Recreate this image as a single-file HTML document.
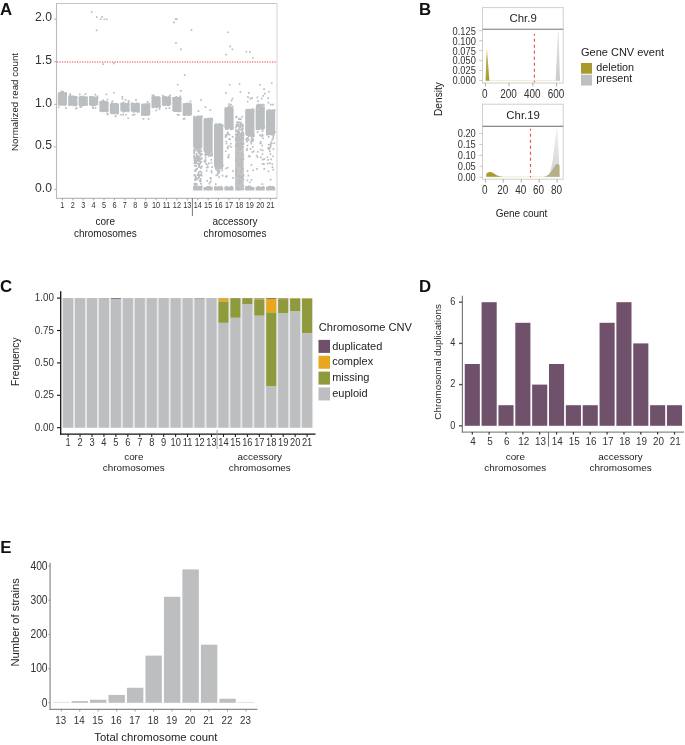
<!DOCTYPE html><html><head><meta charset="utf-8"><title>Figure</title><style>html,body{margin:0;padding:0;background:#fff;width:685px;height:745px;overflow:hidden}svg{display:block;font-family:"Liberation Sans",sans-serif;will-change:transform}</style></head><body><svg width="685" height="745" viewBox="0 0 685 745" font-family="Liberation Sans, sans-serif"><text x="0" y="14.7" font-size="16.8" fill="#111" font-weight="bold">A</text>
<text x="419" y="14.8" font-size="16.8" fill="#111" font-weight="bold">B</text>
<text x="0" y="291.6" font-size="16.8" fill="#111" font-weight="bold">C</text>
<text x="418.9" y="291.8" font-size="16.8" fill="#111" font-weight="bold">D</text>
<text x="0.3" y="553" font-size="16.8" fill="#111" font-weight="bold">E</text>
<line x1="56.5" y1="3.5" x2="277.2" y2="3.5" stroke="#C6C6C6" stroke-width="1.1"/>
<line x1="277" y1="3.5" x2="277" y2="198.4" stroke="#E0E0E0" stroke-width="1.4"/>
<line x1="56.5" y1="3" x2="56.5" y2="198.9" stroke="#BBBBBB" stroke-width="1.1"/>
<line x1="56.5" y1="198.4" x2="277.2" y2="198.4" stroke="#BBBBBB" stroke-width="1.1"/>
<path d="M57.8 93.1h9.2v11.6h-9.2zM68.2 96.6h9.2v8.3h-9.2zM78.6 96.8h9.2v7.9h-9.2zM89.0 97.2h9.2v7.5h-9.2zM99.4 101.8h9.2v9.4h-9.2zM109.8 104.2h9.2v8.9h-9.2zM120.3 103.6h9.2v7.6h-9.2zM130.7 103.8h9.2v7.7h-9.2zM141.1 104.3h9.2v10.5h-9.2zM151.5 97.2h9.2v9.9h-9.2zM161.9 97.0h9.2v7.9h-9.2zM172.3 97.8h9.2v13.2h-9.2zM182.7 103.8h9.2v11.0h-9.2zM193.1 117.2h9.2v29.5h-9.2zM193.1 187.0h9.2v3.4h-9.2zM203.5 119.6h9.2v30.6h-9.2zM203.5 187.0h9.2v3.4h-9.2zM214.0 124.8h9.2v41.0h-9.2zM214.0 187.0h9.2v3.4h-9.2zM224.4 108.8h9.2v19.0h-9.2zM224.4 187.0h9.2v3.4h-9.2zM245.2 110.4h9.2v24.3h-9.2zM245.2 187.0h9.2v3.4h-9.2zM255.6 107.6h9.2v19.8h-9.2zM255.6 187.0h9.2v3.4h-9.2zM266.0 111.0h9.2v21.9h-9.2zM266.0 187.0h9.2v3.4h-9.2zM193.1 186.0h9.2v2.0h-9.2z" fill="#BBBEC0"/>
<rect x="235.1" y="146.0" width="8.6" height="44.4" fill="#C2C4C6"/>
<path d="M60.3 92.1h1.7v1.7h-1.7zM62.8 102.9h1.7v1.7h-1.7zM61.9 92.4h1.7v1.7h-1.7zM58.2 103.6h1.7v1.7h-1.7zM58.1 92.5h1.7v1.7h-1.7zM58.3 102.9h1.7v1.7h-1.7zM61.1 93.1h1.7v1.7h-1.7zM58.8 103.1h1.7v1.7h-1.7zM62.6 93.2h1.7v1.7h-1.7zM62.2 103.4h1.7v1.7h-1.7zM65.3 92.0h1.7v1.7h-1.7zM64.4 103.2h1.7v1.7h-1.7zM58.9 92.1h1.7v1.7h-1.7zM60.2 104.0h1.7v1.7h-1.7zM59.2 92.7h1.7v1.7h-1.7zM62.7 103.4h1.7v1.7h-1.7zM62.0 92.0h1.7v1.7h-1.7zM58.3 103.1h1.7v1.7h-1.7zM63.0 92.5h1.7v1.7h-1.7zM60.2 103.7h1.7v1.7h-1.7zM61.3 92.3h1.7v1.7h-1.7zM63.9 103.8h1.7v1.7h-1.7zM59.7 92.7h1.7v1.7h-1.7zM61.8 104.1h1.7v1.7h-1.7zM63.4 92.3h1.7v1.7h-1.7zM65.3 103.0h1.7v1.7h-1.7zM61.0 93.0h1.7v1.7h-1.7zM59.0 103.5h1.7v1.7h-1.7zM58.1 92.8h1.7v1.7h-1.7zM63.7 103.7h1.7v1.7h-1.7zM64.5 92.3h1.7v1.7h-1.7zM63.2 103.7h1.7v1.7h-1.7zM62.3 92.5h1.7v1.7h-1.7zM64.3 104.2h1.7v1.7h-1.7zM61.5 92.8h1.7v1.7h-1.7zM58.3 103.9h1.7v1.7h-1.7zM62.8 93.3h1.7v1.7h-1.7zM64.1 103.2h1.7v1.7h-1.7zM60.8 92.8h1.7v1.7h-1.7zM58.0 103.5h1.7v1.7h-1.7zM59.1 92.1h1.7v1.7h-1.7zM58.3 104.0h1.7v1.7h-1.7zM58.8 92.2h1.7v1.7h-1.7zM60.8 104.1h1.7v1.7h-1.7zM58.4 92.5h1.7v1.7h-1.7zM62.0 104.1h1.7v1.7h-1.7zM64.1 93.1h1.7v1.7h-1.7zM59.9 103.4h1.7v1.7h-1.7zM60.6 93.1h1.7v1.7h-1.7zM65.2 103.0h1.7v1.7h-1.7zM59.2 92.2h1.7v1.7h-1.7zM59.6 103.5h1.7v1.7h-1.7zM62.3 91.1h1.7v1.7h-1.7zM57.8 106.5h1.7v1.7h-1.7zM60.6 90.4h1.7v1.7h-1.7zM65.1 107.2h1.7v1.7h-1.7zM72.2 96.3h1.7v1.7h-1.7zM73.4 103.1h1.7v1.7h-1.7zM75.1 96.5h1.7v1.7h-1.7zM74.9 104.2h1.7v1.7h-1.7zM71.2 96.0h1.7v1.7h-1.7zM69.0 104.0h1.7v1.7h-1.7zM68.7 95.5h1.7v1.7h-1.7zM69.8 103.2h1.7v1.7h-1.7zM70.8 95.5h1.7v1.7h-1.7zM68.2 103.2h1.7v1.7h-1.7zM69.0 95.9h1.7v1.7h-1.7zM68.4 104.3h1.7v1.7h-1.7zM72.9 95.6h1.7v1.7h-1.7zM70.2 103.5h1.7v1.7h-1.7zM71.0 95.6h1.7v1.7h-1.7zM74.7 104.5h1.7v1.7h-1.7zM71.8 96.1h1.7v1.7h-1.7zM68.9 103.2h1.7v1.7h-1.7zM70.8 95.8h1.7v1.7h-1.7zM74.6 103.2h1.7v1.7h-1.7zM68.4 96.7h1.7v1.7h-1.7zM72.3 103.2h1.7v1.7h-1.7zM72.4 95.4h1.7v1.7h-1.7zM72.3 104.5h1.7v1.7h-1.7zM74.9 96.4h1.7v1.7h-1.7zM70.2 103.6h1.7v1.7h-1.7zM69.5 96.5h1.7v1.7h-1.7zM72.3 104.2h1.7v1.7h-1.7zM70.7 95.7h1.7v1.7h-1.7zM74.5 104.5h1.7v1.7h-1.7zM74.8 96.5h1.7v1.7h-1.7zM74.5 104.1h1.7v1.7h-1.7zM70.0 96.1h1.7v1.7h-1.7zM70.9 103.0h1.7v1.7h-1.7zM68.4 95.8h1.7v1.7h-1.7zM70.2 104.0h1.7v1.7h-1.7zM75.6 96.0h1.7v1.7h-1.7zM75.4 104.5h1.7v1.7h-1.7zM75.6 95.9h1.7v1.7h-1.7zM69.9 103.3h1.7v1.7h-1.7zM69.7 95.7h1.7v1.7h-1.7zM73.0 104.4h1.7v1.7h-1.7zM74.7 96.1h1.7v1.7h-1.7zM73.2 104.2h1.7v1.7h-1.7zM68.9 96.3h1.7v1.7h-1.7zM75.2 104.2h1.7v1.7h-1.7zM74.0 96.1h1.7v1.7h-1.7zM69.6 104.2h1.7v1.7h-1.7zM70.8 96.5h1.7v1.7h-1.7zM75.7 103.6h1.7v1.7h-1.7zM71.3 96.7h1.7v1.7h-1.7zM73.8 103.3h1.7v1.7h-1.7zM69.2 94.9h1.7v1.7h-1.7zM75.2 107.7h1.7v1.7h-1.7zM69.3 93.2h1.7v1.7h-1.7zM75.8 107.3h1.7v1.7h-1.7zM81.3 96.4h1.7v1.7h-1.7zM79.6 102.8h1.7v1.7h-1.7zM86.1 96.5h1.7v1.7h-1.7zM82.7 104.2h1.7v1.7h-1.7zM82.0 96.8h1.7v1.7h-1.7zM85.0 103.1h1.7v1.7h-1.7zM80.6 96.0h1.7v1.7h-1.7zM80.5 103.7h1.7v1.7h-1.7zM80.6 96.2h1.7v1.7h-1.7zM79.6 104.2h1.7v1.7h-1.7zM81.3 96.2h1.7v1.7h-1.7zM83.1 104.2h1.7v1.7h-1.7zM81.9 96.9h1.7v1.7h-1.7zM82.5 103.6h1.7v1.7h-1.7zM82.7 95.6h1.7v1.7h-1.7zM82.0 103.1h1.7v1.7h-1.7zM78.7 96.7h1.7v1.7h-1.7zM79.9 103.5h1.7v1.7h-1.7zM84.2 96.4h1.7v1.7h-1.7zM81.1 103.6h1.7v1.7h-1.7zM82.9 96.7h1.7v1.7h-1.7zM79.4 103.6h1.7v1.7h-1.7zM80.5 96.0h1.7v1.7h-1.7zM84.6 103.6h1.7v1.7h-1.7zM82.9 96.7h1.7v1.7h-1.7zM85.6 103.5h1.7v1.7h-1.7zM83.3 96.3h1.7v1.7h-1.7zM82.6 103.8h1.7v1.7h-1.7zM82.1 96.3h1.7v1.7h-1.7zM82.3 104.2h1.7v1.7h-1.7zM84.0 96.8h1.7v1.7h-1.7zM85.9 103.2h1.7v1.7h-1.7zM82.9 96.9h1.7v1.7h-1.7zM85.1 103.0h1.7v1.7h-1.7zM79.6 96.2h1.7v1.7h-1.7zM79.2 103.2h1.7v1.7h-1.7zM79.2 96.5h1.7v1.7h-1.7zM84.7 104.1h1.7v1.7h-1.7zM79.8 96.6h1.7v1.7h-1.7zM83.7 103.0h1.7v1.7h-1.7zM85.4 97.0h1.7v1.7h-1.7zM80.3 104.2h1.7v1.7h-1.7zM81.7 96.3h1.7v1.7h-1.7zM86.2 104.0h1.7v1.7h-1.7zM79.9 96.2h1.7v1.7h-1.7zM82.6 103.3h1.7v1.7h-1.7zM80.1 96.0h1.7v1.7h-1.7zM84.2 102.8h1.7v1.7h-1.7zM82.9 96.2h1.7v1.7h-1.7zM78.8 103.3h1.7v1.7h-1.7zM83.4 96.3h1.7v1.7h-1.7zM79.1 104.3h1.7v1.7h-1.7zM84.7 93.1h1.7v1.7h-1.7zM79.4 106.2h1.7v1.7h-1.7zM78.9 93.6h1.7v1.7h-1.7zM80.7 105.8h1.7v1.7h-1.7zM92.3 97.3h1.7v1.7h-1.7zM95.3 103.2h1.7v1.7h-1.7zM90.2 97.3h1.7v1.7h-1.7zM93.4 103.9h1.7v1.7h-1.7zM89.7 96.1h1.7v1.7h-1.7zM94.3 103.4h1.7v1.7h-1.7zM89.6 97.3h1.7v1.7h-1.7zM93.9 104.0h1.7v1.7h-1.7zM89.7 97.2h1.7v1.7h-1.7zM89.5 104.1h1.7v1.7h-1.7zM92.5 96.5h1.7v1.7h-1.7zM93.3 104.2h1.7v1.7h-1.7zM91.1 96.2h1.7v1.7h-1.7zM93.1 103.2h1.7v1.7h-1.7zM89.9 96.2h1.7v1.7h-1.7zM89.4 103.1h1.7v1.7h-1.7zM91.4 96.4h1.7v1.7h-1.7zM94.9 103.2h1.7v1.7h-1.7zM92.9 96.2h1.7v1.7h-1.7zM91.7 102.8h1.7v1.7h-1.7zM91.0 96.0h1.7v1.7h-1.7zM94.7 103.6h1.7v1.7h-1.7zM90.5 96.7h1.7v1.7h-1.7zM96.2 103.0h1.7v1.7h-1.7zM95.3 96.6h1.7v1.7h-1.7zM92.8 104.1h1.7v1.7h-1.7zM92.1 96.7h1.7v1.7h-1.7zM94.3 104.3h1.7v1.7h-1.7zM91.7 97.2h1.7v1.7h-1.7zM94.5 103.8h1.7v1.7h-1.7zM92.1 96.5h1.7v1.7h-1.7zM89.4 103.0h1.7v1.7h-1.7zM89.6 97.0h1.7v1.7h-1.7zM91.0 103.0h1.7v1.7h-1.7zM89.7 97.2h1.7v1.7h-1.7zM95.7 103.8h1.7v1.7h-1.7zM91.2 96.3h1.7v1.7h-1.7zM91.3 103.5h1.7v1.7h-1.7zM90.2 96.6h1.7v1.7h-1.7zM91.1 104.2h1.7v1.7h-1.7zM96.5 96.8h1.7v1.7h-1.7zM90.9 104.2h1.7v1.7h-1.7zM91.4 96.5h1.7v1.7h-1.7zM89.0 103.4h1.7v1.7h-1.7zM92.7 96.7h1.7v1.7h-1.7zM90.6 103.6h1.7v1.7h-1.7zM89.1 96.4h1.7v1.7h-1.7zM89.7 103.4h1.7v1.7h-1.7zM89.4 96.0h1.7v1.7h-1.7zM91.4 103.1h1.7v1.7h-1.7zM93.5 96.7h1.7v1.7h-1.7zM94.8 103.8h1.7v1.7h-1.7zM94.5 93.7h1.7v1.7h-1.7zM92.0 106.3h1.7v1.7h-1.7zM96.6 95.5h1.7v1.7h-1.7zM94.6 107.1h1.7v1.7h-1.7zM99.8 101.8h1.7v1.7h-1.7zM106.3 110.2h1.7v1.7h-1.7zM105.1 101.7h1.7v1.7h-1.7zM100.5 110.1h1.7v1.7h-1.7zM103.3 101.8h1.7v1.7h-1.7zM105.6 110.5h1.7v1.7h-1.7zM103.9 101.8h1.7v1.7h-1.7zM104.7 110.3h1.7v1.7h-1.7zM101.2 100.6h1.7v1.7h-1.7zM100.5 109.8h1.7v1.7h-1.7zM100.2 101.8h1.7v1.7h-1.7zM103.7 110.2h1.7v1.7h-1.7zM104.3 101.6h1.7v1.7h-1.7zM103.2 109.3h1.7v1.7h-1.7zM105.6 101.6h1.7v1.7h-1.7zM103.3 110.1h1.7v1.7h-1.7zM104.5 100.7h1.7v1.7h-1.7zM105.1 109.7h1.7v1.7h-1.7zM100.0 101.0h1.7v1.7h-1.7zM105.1 109.6h1.7v1.7h-1.7zM105.1 102.0h1.7v1.7h-1.7zM103.2 109.9h1.7v1.7h-1.7zM103.1 101.6h1.7v1.7h-1.7zM105.3 110.2h1.7v1.7h-1.7zM104.4 100.7h1.7v1.7h-1.7zM100.6 109.7h1.7v1.7h-1.7zM105.2 101.0h1.7v1.7h-1.7zM103.8 109.3h1.7v1.7h-1.7zM99.9 101.0h1.7v1.7h-1.7zM104.6 110.3h1.7v1.7h-1.7zM104.6 101.0h1.7v1.7h-1.7zM103.4 110.0h1.7v1.7h-1.7zM103.0 100.8h1.7v1.7h-1.7zM106.3 109.6h1.7v1.7h-1.7zM107.0 101.9h1.7v1.7h-1.7zM99.6 110.0h1.7v1.7h-1.7zM105.8 102.0h1.7v1.7h-1.7zM102.9 109.7h1.7v1.7h-1.7zM101.1 101.9h1.7v1.7h-1.7zM101.1 110.2h1.7v1.7h-1.7zM100.5 101.3h1.7v1.7h-1.7zM106.8 109.5h1.7v1.7h-1.7zM105.8 101.3h1.7v1.7h-1.7zM106.3 110.4h1.7v1.7h-1.7zM101.2 101.9h1.7v1.7h-1.7zM103.2 109.3h1.7v1.7h-1.7zM99.5 101.3h1.7v1.7h-1.7zM102.9 109.8h1.7v1.7h-1.7zM100.5 101.1h1.7v1.7h-1.7zM101.9 110.6h1.7v1.7h-1.7zM99.5 101.7h1.7v1.7h-1.7zM105.9 109.5h1.7v1.7h-1.7zM106.6 98.7h1.7v1.7h-1.7zM106.4 112.7h1.7v1.7h-1.7zM102.3 99.5h1.7v1.7h-1.7zM107.1 113.5h1.7v1.7h-1.7zM112.6 103.6h1.7v1.7h-1.7zM112.0 111.3h1.7v1.7h-1.7zM110.6 104.2h1.7v1.7h-1.7zM112.0 112.6h1.7v1.7h-1.7zM111.8 103.4h1.7v1.7h-1.7zM113.8 111.5h1.7v1.7h-1.7zM112.7 104.3h1.7v1.7h-1.7zM116.7 112.4h1.7v1.7h-1.7zM114.7 104.3h1.7v1.7h-1.7zM117.1 112.0h1.7v1.7h-1.7zM115.4 103.1h1.7v1.7h-1.7zM115.5 111.9h1.7v1.7h-1.7zM115.6 103.9h1.7v1.7h-1.7zM112.1 111.3h1.7v1.7h-1.7zM117.0 103.2h1.7v1.7h-1.7zM113.5 111.7h1.7v1.7h-1.7zM112.1 104.0h1.7v1.7h-1.7zM117.4 111.6h1.7v1.7h-1.7zM114.9 103.4h1.7v1.7h-1.7zM114.1 111.8h1.7v1.7h-1.7zM111.1 103.2h1.7v1.7h-1.7zM111.5 112.6h1.7v1.7h-1.7zM113.7 103.3h1.7v1.7h-1.7zM116.8 112.7h1.7v1.7h-1.7zM113.3 103.2h1.7v1.7h-1.7zM111.3 111.3h1.7v1.7h-1.7zM112.5 103.1h1.7v1.7h-1.7zM111.7 111.6h1.7v1.7h-1.7zM114.2 104.2h1.7v1.7h-1.7zM115.6 111.8h1.7v1.7h-1.7zM113.0 103.7h1.7v1.7h-1.7zM112.8 111.7h1.7v1.7h-1.7zM110.3 103.4h1.7v1.7h-1.7zM117.3 111.4h1.7v1.7h-1.7zM113.7 103.9h1.7v1.7h-1.7zM116.5 111.5h1.7v1.7h-1.7zM111.9 103.3h1.7v1.7h-1.7zM112.9 111.9h1.7v1.7h-1.7zM117.2 104.2h1.7v1.7h-1.7zM116.6 111.2h1.7v1.7h-1.7zM110.1 104.0h1.7v1.7h-1.7zM116.7 111.9h1.7v1.7h-1.7zM114.4 103.0h1.7v1.7h-1.7zM112.9 112.6h1.7v1.7h-1.7zM116.2 104.2h1.7v1.7h-1.7zM117.3 111.6h1.7v1.7h-1.7zM110.7 103.2h1.7v1.7h-1.7zM113.9 112.2h1.7v1.7h-1.7zM117.1 104.0h1.7v1.7h-1.7zM114.8 112.3h1.7v1.7h-1.7zM113.4 103.8h1.7v1.7h-1.7zM110.2 112.4h1.7v1.7h-1.7zM111.6 100.6h1.7v1.7h-1.7zM114.8 114.7h1.7v1.7h-1.7zM110.8 102.3h1.7v1.7h-1.7zM114.7 115.6h1.7v1.7h-1.7zM121.1 102.5h1.7v1.7h-1.7zM124.3 110.2h1.7v1.7h-1.7zM123.2 102.7h1.7v1.7h-1.7zM124.9 109.3h1.7v1.7h-1.7zM122.6 103.0h1.7v1.7h-1.7zM127.6 110.3h1.7v1.7h-1.7zM127.1 103.1h1.7v1.7h-1.7zM122.1 109.7h1.7v1.7h-1.7zM127.7 103.4h1.7v1.7h-1.7zM122.6 109.3h1.7v1.7h-1.7zM124.1 103.3h1.7v1.7h-1.7zM123.5 109.7h1.7v1.7h-1.7zM125.4 103.7h1.7v1.7h-1.7zM122.0 109.4h1.7v1.7h-1.7zM122.9 103.0h1.7v1.7h-1.7zM125.5 109.6h1.7v1.7h-1.7zM126.4 103.4h1.7v1.7h-1.7zM124.1 109.6h1.7v1.7h-1.7zM127.7 102.8h1.7v1.7h-1.7zM126.6 109.6h1.7v1.7h-1.7zM122.0 103.5h1.7v1.7h-1.7zM122.5 110.7h1.7v1.7h-1.7zM124.1 102.7h1.7v1.7h-1.7zM122.0 109.9h1.7v1.7h-1.7zM125.4 103.7h1.7v1.7h-1.7zM121.4 109.9h1.7v1.7h-1.7zM121.9 103.8h1.7v1.7h-1.7zM121.4 109.4h1.7v1.7h-1.7zM120.7 103.0h1.7v1.7h-1.7zM127.2 110.6h1.7v1.7h-1.7zM125.9 103.8h1.7v1.7h-1.7zM127.4 109.8h1.7v1.7h-1.7zM121.7 103.7h1.7v1.7h-1.7zM126.0 109.3h1.7v1.7h-1.7zM125.4 102.9h1.7v1.7h-1.7zM123.1 109.8h1.7v1.7h-1.7zM121.6 102.4h1.7v1.7h-1.7zM122.4 109.8h1.7v1.7h-1.7zM127.6 102.6h1.7v1.7h-1.7zM127.7 109.6h1.7v1.7h-1.7zM123.0 103.6h1.7v1.7h-1.7zM126.6 109.9h1.7v1.7h-1.7zM120.6 103.1h1.7v1.7h-1.7zM123.1 110.7h1.7v1.7h-1.7zM121.7 102.9h1.7v1.7h-1.7zM127.2 109.3h1.7v1.7h-1.7zM123.4 103.5h1.7v1.7h-1.7zM126.2 109.4h1.7v1.7h-1.7zM120.5 102.5h1.7v1.7h-1.7zM127.3 109.7h1.7v1.7h-1.7zM126.0 103.7h1.7v1.7h-1.7zM122.9 109.7h1.7v1.7h-1.7zM127.6 100.8h1.7v1.7h-1.7zM122.3 113.8h1.7v1.7h-1.7zM122.7 101.6h1.7v1.7h-1.7zM120.3 113.9h1.7v1.7h-1.7zM137.7 103.5h1.7v1.7h-1.7zM137.9 109.6h1.7v1.7h-1.7zM132.5 103.3h1.7v1.7h-1.7zM138.0 111.0h1.7v1.7h-1.7zM133.6 103.0h1.7v1.7h-1.7zM134.0 110.3h1.7v1.7h-1.7zM137.8 102.9h1.7v1.7h-1.7zM136.8 110.7h1.7v1.7h-1.7zM137.0 103.7h1.7v1.7h-1.7zM135.3 110.1h1.7v1.7h-1.7zM133.1 103.1h1.7v1.7h-1.7zM136.7 109.7h1.7v1.7h-1.7zM132.2 103.7h1.7v1.7h-1.7zM132.6 109.7h1.7v1.7h-1.7zM130.9 103.4h1.7v1.7h-1.7zM133.2 111.1h1.7v1.7h-1.7zM137.5 104.0h1.7v1.7h-1.7zM132.7 109.7h1.7v1.7h-1.7zM131.4 103.3h1.7v1.7h-1.7zM136.1 110.3h1.7v1.7h-1.7zM132.5 103.2h1.7v1.7h-1.7zM135.4 110.6h1.7v1.7h-1.7zM136.4 103.8h1.7v1.7h-1.7zM135.8 109.8h1.7v1.7h-1.7zM137.1 103.0h1.7v1.7h-1.7zM135.0 110.2h1.7v1.7h-1.7zM136.4 102.9h1.7v1.7h-1.7zM132.6 110.0h1.7v1.7h-1.7zM131.9 103.8h1.7v1.7h-1.7zM135.1 110.1h1.7v1.7h-1.7zM133.7 104.0h1.7v1.7h-1.7zM134.6 109.9h1.7v1.7h-1.7zM136.9 103.5h1.7v1.7h-1.7zM138.3 109.8h1.7v1.7h-1.7zM134.3 103.7h1.7v1.7h-1.7zM137.1 111.0h1.7v1.7h-1.7zM131.0 103.0h1.7v1.7h-1.7zM131.6 109.9h1.7v1.7h-1.7zM138.2 103.4h1.7v1.7h-1.7zM137.8 110.2h1.7v1.7h-1.7zM137.3 103.2h1.7v1.7h-1.7zM132.7 110.8h1.7v1.7h-1.7zM138.0 102.7h1.7v1.7h-1.7zM135.3 110.5h1.7v1.7h-1.7zM132.3 103.1h1.7v1.7h-1.7zM131.8 109.9h1.7v1.7h-1.7zM132.6 103.4h1.7v1.7h-1.7zM135.7 109.9h1.7v1.7h-1.7zM130.8 103.1h1.7v1.7h-1.7zM135.9 109.9h1.7v1.7h-1.7zM133.1 102.9h1.7v1.7h-1.7zM136.8 110.4h1.7v1.7h-1.7zM131.2 102.2h1.7v1.7h-1.7zM133.7 113.7h1.7v1.7h-1.7zM135.6 102.3h1.7v1.7h-1.7zM131.9 114.0h1.7v1.7h-1.7zM144.2 103.5h1.7v1.7h-1.7zM143.4 114.3h1.7v1.7h-1.7zM143.5 103.9h1.7v1.7h-1.7zM143.8 113.5h1.7v1.7h-1.7zM147.7 104.5h1.7v1.7h-1.7zM143.9 113.2h1.7v1.7h-1.7zM146.7 103.4h1.7v1.7h-1.7zM141.1 114.3h1.7v1.7h-1.7zM144.3 104.2h1.7v1.7h-1.7zM144.2 114.2h1.7v1.7h-1.7zM144.6 103.3h1.7v1.7h-1.7zM141.2 113.7h1.7v1.7h-1.7zM146.0 104.4h1.7v1.7h-1.7zM141.8 113.8h1.7v1.7h-1.7zM143.9 103.8h1.7v1.7h-1.7zM142.2 113.3h1.7v1.7h-1.7zM145.1 104.4h1.7v1.7h-1.7zM141.9 113.6h1.7v1.7h-1.7zM147.3 104.5h1.7v1.7h-1.7zM142.6 113.1h1.7v1.7h-1.7zM148.3 104.5h1.7v1.7h-1.7zM144.8 113.0h1.7v1.7h-1.7zM148.2 103.6h1.7v1.7h-1.7zM148.0 113.8h1.7v1.7h-1.7zM147.4 103.3h1.7v1.7h-1.7zM147.1 113.2h1.7v1.7h-1.7zM144.2 104.3h1.7v1.7h-1.7zM147.5 113.2h1.7v1.7h-1.7zM142.8 103.7h1.7v1.7h-1.7zM145.1 113.5h1.7v1.7h-1.7zM142.0 103.4h1.7v1.7h-1.7zM146.7 114.2h1.7v1.7h-1.7zM141.4 103.9h1.7v1.7h-1.7zM146.9 113.0h1.7v1.7h-1.7zM147.5 103.3h1.7v1.7h-1.7zM145.7 113.7h1.7v1.7h-1.7zM145.9 103.5h1.7v1.7h-1.7zM144.3 113.8h1.7v1.7h-1.7zM144.4 104.0h1.7v1.7h-1.7zM144.5 113.6h1.7v1.7h-1.7zM141.3 104.0h1.7v1.7h-1.7zM144.8 113.3h1.7v1.7h-1.7zM147.0 104.2h1.7v1.7h-1.7zM144.6 113.2h1.7v1.7h-1.7zM144.7 103.2h1.7v1.7h-1.7zM142.1 113.5h1.7v1.7h-1.7zM141.8 103.7h1.7v1.7h-1.7zM145.0 113.0h1.7v1.7h-1.7zM146.0 103.2h1.7v1.7h-1.7zM146.7 114.1h1.7v1.7h-1.7zM145.0 103.2h1.7v1.7h-1.7zM145.0 113.5h1.7v1.7h-1.7zM148.4 102.7h1.7v1.7h-1.7zM147.7 118.1h1.7v1.7h-1.7zM146.7 101.0h1.7v1.7h-1.7zM142.6 118.1h1.7v1.7h-1.7zM155.3 97.3h1.7v1.7h-1.7zM158.5 105.4h1.7v1.7h-1.7zM157.6 97.3h1.7v1.7h-1.7zM152.0 105.7h1.7v1.7h-1.7zM157.3 96.2h1.7v1.7h-1.7zM158.4 105.6h1.7v1.7h-1.7zM157.8 96.2h1.7v1.7h-1.7zM155.4 106.6h1.7v1.7h-1.7zM153.1 96.4h1.7v1.7h-1.7zM155.4 105.7h1.7v1.7h-1.7zM151.8 96.3h1.7v1.7h-1.7zM152.7 106.6h1.7v1.7h-1.7zM156.7 97.3h1.7v1.7h-1.7zM152.8 106.4h1.7v1.7h-1.7zM152.4 96.7h1.7v1.7h-1.7zM156.4 105.7h1.7v1.7h-1.7zM158.2 96.8h1.7v1.7h-1.7zM156.0 106.5h1.7v1.7h-1.7zM152.3 97.4h1.7v1.7h-1.7zM156.3 105.8h1.7v1.7h-1.7zM157.6 96.4h1.7v1.7h-1.7zM159.1 106.1h1.7v1.7h-1.7zM154.3 97.1h1.7v1.7h-1.7zM154.9 105.5h1.7v1.7h-1.7zM157.2 96.1h1.7v1.7h-1.7zM157.8 105.6h1.7v1.7h-1.7zM156.4 97.4h1.7v1.7h-1.7zM156.0 106.2h1.7v1.7h-1.7zM153.9 96.0h1.7v1.7h-1.7zM151.8 105.4h1.7v1.7h-1.7zM156.2 96.6h1.7v1.7h-1.7zM155.4 106.5h1.7v1.7h-1.7zM152.5 96.3h1.7v1.7h-1.7zM156.5 105.2h1.7v1.7h-1.7zM151.5 96.5h1.7v1.7h-1.7zM152.3 105.7h1.7v1.7h-1.7zM153.2 96.8h1.7v1.7h-1.7zM156.0 105.5h1.7v1.7h-1.7zM156.3 96.7h1.7v1.7h-1.7zM152.5 106.6h1.7v1.7h-1.7zM153.4 96.2h1.7v1.7h-1.7zM152.2 106.2h1.7v1.7h-1.7zM158.2 97.1h1.7v1.7h-1.7zM154.6 105.6h1.7v1.7h-1.7zM151.6 96.9h1.7v1.7h-1.7zM155.8 105.7h1.7v1.7h-1.7zM156.5 96.6h1.7v1.7h-1.7zM158.7 106.3h1.7v1.7h-1.7zM153.4 97.3h1.7v1.7h-1.7zM151.8 106.0h1.7v1.7h-1.7zM154.6 96.3h1.7v1.7h-1.7zM151.9 106.4h1.7v1.7h-1.7zM151.6 94.5h1.7v1.7h-1.7zM158.7 108.3h1.7v1.7h-1.7zM153.0 94.4h1.7v1.7h-1.7zM155.4 109.5h1.7v1.7h-1.7zM168.2 96.0h1.7v1.7h-1.7zM164.3 103.5h1.7v1.7h-1.7zM162.3 97.0h1.7v1.7h-1.7zM167.9 104.1h1.7v1.7h-1.7zM161.9 97.0h1.7v1.7h-1.7zM167.6 103.7h1.7v1.7h-1.7zM167.6 96.4h1.7v1.7h-1.7zM163.6 103.2h1.7v1.7h-1.7zM163.7 95.9h1.7v1.7h-1.7zM164.5 104.1h1.7v1.7h-1.7zM167.3 97.0h1.7v1.7h-1.7zM167.4 103.4h1.7v1.7h-1.7zM166.2 96.4h1.7v1.7h-1.7zM168.0 103.8h1.7v1.7h-1.7zM163.9 96.7h1.7v1.7h-1.7zM169.3 103.3h1.7v1.7h-1.7zM168.7 95.8h1.7v1.7h-1.7zM163.9 103.4h1.7v1.7h-1.7zM167.6 97.1h1.7v1.7h-1.7zM167.6 103.5h1.7v1.7h-1.7zM168.7 96.3h1.7v1.7h-1.7zM163.7 104.4h1.7v1.7h-1.7zM166.8 96.8h1.7v1.7h-1.7zM167.0 104.5h1.7v1.7h-1.7zM165.5 97.0h1.7v1.7h-1.7zM167.3 104.3h1.7v1.7h-1.7zM165.3 96.8h1.7v1.7h-1.7zM166.3 103.5h1.7v1.7h-1.7zM163.5 96.7h1.7v1.7h-1.7zM162.5 104.4h1.7v1.7h-1.7zM163.0 95.8h1.7v1.7h-1.7zM162.7 104.4h1.7v1.7h-1.7zM164.6 96.0h1.7v1.7h-1.7zM162.1 103.1h1.7v1.7h-1.7zM167.2 96.7h1.7v1.7h-1.7zM167.3 104.1h1.7v1.7h-1.7zM162.4 96.6h1.7v1.7h-1.7zM164.7 104.2h1.7v1.7h-1.7zM168.2 97.0h1.7v1.7h-1.7zM162.4 104.3h1.7v1.7h-1.7zM168.9 97.1h1.7v1.7h-1.7zM162.7 103.3h1.7v1.7h-1.7zM162.8 95.8h1.7v1.7h-1.7zM168.4 104.2h1.7v1.7h-1.7zM166.8 97.0h1.7v1.7h-1.7zM166.8 103.4h1.7v1.7h-1.7zM162.7 95.9h1.7v1.7h-1.7zM167.7 103.3h1.7v1.7h-1.7zM164.4 96.4h1.7v1.7h-1.7zM162.1 103.4h1.7v1.7h-1.7zM164.1 96.8h1.7v1.7h-1.7zM164.7 103.5h1.7v1.7h-1.7zM169.3 94.4h1.7v1.7h-1.7zM168.5 107.2h1.7v1.7h-1.7zM162.1 94.7h1.7v1.7h-1.7zM165.3 107.6h1.7v1.7h-1.7zM175.0 97.6h1.7v1.7h-1.7zM176.5 109.4h1.7v1.7h-1.7zM178.9 96.7h1.7v1.7h-1.7zM178.6 109.4h1.7v1.7h-1.7zM172.3 96.9h1.7v1.7h-1.7zM178.2 110.6h1.7v1.7h-1.7zM172.3 97.3h1.7v1.7h-1.7zM176.1 110.3h1.7v1.7h-1.7zM173.7 97.3h1.7v1.7h-1.7zM175.0 110.3h1.7v1.7h-1.7zM174.3 97.9h1.7v1.7h-1.7zM174.5 109.4h1.7v1.7h-1.7zM177.7 97.3h1.7v1.7h-1.7zM173.2 110.1h1.7v1.7h-1.7zM172.9 97.7h1.7v1.7h-1.7zM177.7 110.3h1.7v1.7h-1.7zM177.1 97.1h1.7v1.7h-1.7zM175.4 109.7h1.7v1.7h-1.7zM179.2 96.7h1.7v1.7h-1.7zM179.2 109.1h1.7v1.7h-1.7zM173.9 97.0h1.7v1.7h-1.7zM179.2 109.9h1.7v1.7h-1.7zM175.2 97.8h1.7v1.7h-1.7zM174.1 109.8h1.7v1.7h-1.7zM176.4 97.7h1.7v1.7h-1.7zM178.1 110.1h1.7v1.7h-1.7zM175.0 97.1h1.7v1.7h-1.7zM173.5 110.4h1.7v1.7h-1.7zM177.4 97.6h1.7v1.7h-1.7zM173.6 109.8h1.7v1.7h-1.7zM178.3 97.4h1.7v1.7h-1.7zM173.3 109.8h1.7v1.7h-1.7zM179.1 96.9h1.7v1.7h-1.7zM173.8 109.6h1.7v1.7h-1.7zM177.7 97.8h1.7v1.7h-1.7zM173.5 109.3h1.7v1.7h-1.7zM174.2 97.1h1.7v1.7h-1.7zM176.3 109.3h1.7v1.7h-1.7zM174.8 96.9h1.7v1.7h-1.7zM179.8 110.2h1.7v1.7h-1.7zM173.1 97.9h1.7v1.7h-1.7zM173.1 109.7h1.7v1.7h-1.7zM179.9 97.7h1.7v1.7h-1.7zM178.0 109.8h1.7v1.7h-1.7zM173.8 97.5h1.7v1.7h-1.7zM173.1 109.4h1.7v1.7h-1.7zM175.3 96.6h1.7v1.7h-1.7zM175.4 110.3h1.7v1.7h-1.7zM177.6 97.3h1.7v1.7h-1.7zM177.2 109.8h1.7v1.7h-1.7zM173.4 97.4h1.7v1.7h-1.7zM175.4 110.2h1.7v1.7h-1.7zM179.3 95.4h1.7v1.7h-1.7zM176.7 113.7h1.7v1.7h-1.7zM175.6 95.9h1.7v1.7h-1.7zM177.9 114.0h1.7v1.7h-1.7zM188.7 103.6h1.7v1.7h-1.7zM189.3 113.9h1.7v1.7h-1.7zM187.7 103.2h1.7v1.7h-1.7zM185.1 113.8h1.7v1.7h-1.7zM183.5 103.2h1.7v1.7h-1.7zM188.7 114.0h1.7v1.7h-1.7zM187.6 103.0h1.7v1.7h-1.7zM186.0 113.6h1.7v1.7h-1.7zM187.5 103.2h1.7v1.7h-1.7zM187.9 114.3h1.7v1.7h-1.7zM184.1 103.5h1.7v1.7h-1.7zM188.7 113.5h1.7v1.7h-1.7zM186.5 104.0h1.7v1.7h-1.7zM183.0 113.7h1.7v1.7h-1.7zM184.0 103.7h1.7v1.7h-1.7zM190.0 113.7h1.7v1.7h-1.7zM183.5 103.4h1.7v1.7h-1.7zM186.9 114.0h1.7v1.7h-1.7zM186.7 103.5h1.7v1.7h-1.7zM189.1 113.7h1.7v1.7h-1.7zM185.9 103.9h1.7v1.7h-1.7zM184.3 113.9h1.7v1.7h-1.7zM185.7 103.7h1.7v1.7h-1.7zM183.7 114.4h1.7v1.7h-1.7zM185.5 102.7h1.7v1.7h-1.7zM184.8 113.5h1.7v1.7h-1.7zM182.8 103.2h1.7v1.7h-1.7zM186.0 113.9h1.7v1.7h-1.7zM185.4 103.0h1.7v1.7h-1.7zM184.4 114.0h1.7v1.7h-1.7zM190.0 103.3h1.7v1.7h-1.7zM184.4 114.1h1.7v1.7h-1.7zM185.7 102.9h1.7v1.7h-1.7zM183.7 114.1h1.7v1.7h-1.7zM189.0 103.5h1.7v1.7h-1.7zM186.3 113.7h1.7v1.7h-1.7zM184.5 103.9h1.7v1.7h-1.7zM185.4 113.9h1.7v1.7h-1.7zM189.0 103.7h1.7v1.7h-1.7zM186.3 113.3h1.7v1.7h-1.7zM186.9 102.8h1.7v1.7h-1.7zM189.1 113.4h1.7v1.7h-1.7zM189.3 103.0h1.7v1.7h-1.7zM185.6 113.3h1.7v1.7h-1.7zM186.0 102.9h1.7v1.7h-1.7zM182.7 114.0h1.7v1.7h-1.7zM184.9 102.9h1.7v1.7h-1.7zM185.0 113.6h1.7v1.7h-1.7zM186.0 103.5h1.7v1.7h-1.7zM187.8 113.4h1.7v1.7h-1.7zM189.9 103.8h1.7v1.7h-1.7zM183.2 114.1h1.7v1.7h-1.7zM189.7 100.5h1.7v1.7h-1.7zM183.8 117.7h1.7v1.7h-1.7zM187.6 102.5h1.7v1.7h-1.7zM182.8 118.0h1.7v1.7h-1.7zM198.4 116.0h1.7v1.7h-1.7zM193.9 145.3h1.7v1.7h-1.7zM195.0 117.1h1.7v1.7h-1.7zM195.9 145.3h1.7v1.7h-1.7zM200.4 117.1h1.7v1.7h-1.7zM194.5 147.3h1.7v1.7h-1.7zM198.0 117.1h1.7v1.7h-1.7zM198.5 147.3h1.7v1.7h-1.7zM199.4 117.2h1.7v1.7h-1.7zM194.7 146.8h1.7v1.7h-1.7zM197.4 117.0h1.7v1.7h-1.7zM196.6 147.3h1.7v1.7h-1.7zM197.6 116.0h1.7v1.7h-1.7zM195.0 145.3h1.7v1.7h-1.7zM197.1 115.5h1.7v1.7h-1.7zM196.9 145.3h1.7v1.7h-1.7zM197.1 116.5h1.7v1.7h-1.7zM197.4 147.2h1.7v1.7h-1.7zM193.2 117.2h1.7v1.7h-1.7zM196.9 146.4h1.7v1.7h-1.7zM198.5 117.2h1.7v1.7h-1.7zM196.1 146.0h1.7v1.7h-1.7zM200.8 115.6h1.7v1.7h-1.7zM198.2 146.6h1.7v1.7h-1.7zM193.4 116.7h1.7v1.7h-1.7zM198.6 147.4h1.7v1.7h-1.7zM195.8 117.6h1.7v1.7h-1.7zM197.2 146.2h1.7v1.7h-1.7zM200.3 115.5h1.7v1.7h-1.7zM198.9 146.6h1.7v1.7h-1.7zM195.8 117.3h1.7v1.7h-1.7zM196.1 146.2h1.7v1.7h-1.7zM197.3 117.1h1.7v1.7h-1.7zM194.8 146.1h1.7v1.7h-1.7zM196.5 116.6h1.7v1.7h-1.7zM199.7 145.7h1.7v1.7h-1.7zM199.8 116.3h1.7v1.7h-1.7zM197.2 145.6h1.7v1.7h-1.7zM197.2 117.5h1.7v1.7h-1.7zM198.4 147.0h1.7v1.7h-1.7zM195.8 116.1h1.7v1.7h-1.7zM195.5 146.5h1.7v1.7h-1.7zM198.2 117.1h1.7v1.7h-1.7zM193.5 146.9h1.7v1.7h-1.7zM200.2 116.6h1.7v1.7h-1.7zM193.5 145.7h1.7v1.7h-1.7zM193.2 115.8h1.7v1.7h-1.7zM200.5 146.5h1.7v1.7h-1.7zM198.4 117.1h1.7v1.7h-1.7zM200.4 146.6h1.7v1.7h-1.7zM198.1 116.8h1.7v1.7h-1.7zM198.7 146.5h1.7v1.7h-1.7zM198.6 115.9h1.7v1.7h-1.7zM198.5 146.1h1.7v1.7h-1.7zM199.2 115.6h1.7v1.7h-1.7zM194.6 145.0h1.7v1.7h-1.7zM199.3 117.4h1.7v1.7h-1.7zM198.4 145.9h1.7v1.7h-1.7zM199.7 117.1h1.7v1.7h-1.7zM197.6 145.6h1.7v1.7h-1.7zM195.5 152.8h1.7v1.7h-1.7zM195.7 152.9h1.7v1.7h-1.7zM198.3 159.2h1.7v1.7h-1.7zM193.6 154.6h1.7v1.7h-1.7zM193.4 149.0h1.7v1.7h-1.7zM199.6 154.7h1.7v1.7h-1.7zM200.5 153.1h1.7v1.7h-1.7zM193.2 152.3h1.7v1.7h-1.7zM197.9 159.2h1.7v1.7h-1.7zM201.0 153.4h1.7v1.7h-1.7zM196.4 148.8h1.7v1.7h-1.7zM198.3 150.2h1.7v1.7h-1.7zM194.3 147.7h1.7v1.7h-1.7zM193.2 156.0h1.7v1.7h-1.7zM194.1 159.6h1.7v1.7h-1.7zM193.8 158.4h1.7v1.7h-1.7zM194.2 147.7h1.7v1.7h-1.7zM198.9 150.5h1.7v1.7h-1.7zM199.0 149.8h1.7v1.7h-1.7zM193.5 157.2h1.7v1.7h-1.7zM198.8 158.2h1.7v1.7h-1.7zM199.0 148.6h1.7v1.7h-1.7zM198.2 156.4h1.7v1.7h-1.7zM196.8 159.2h1.7v1.7h-1.7zM195.2 159.6h1.7v1.7h-1.7zM198.9 147.6h1.7v1.7h-1.7zM193.2 155.6h1.7v1.7h-1.7zM199.7 148.5h1.7v1.7h-1.7zM195.6 156.6h1.7v1.7h-1.7zM194.5 158.3h1.7v1.7h-1.7zM197.0 148.2h1.7v1.7h-1.7zM196.1 154.7h1.7v1.7h-1.7zM196.6 156.0h1.7v1.7h-1.7zM194.3 157.5h1.7v1.7h-1.7zM196.0 155.6h1.7v1.7h-1.7zM198.2 152.7h1.7v1.7h-1.7zM196.2 157.3h1.7v1.7h-1.7zM200.7 157.3h1.7v1.7h-1.7zM197.7 151.2h1.7v1.7h-1.7zM193.6 159.7h1.7v1.7h-1.7zM198.8 157.8h1.7v1.7h-1.7zM195.8 155.1h1.7v1.7h-1.7zM200.9 157.9h1.7v1.7h-1.7zM197.9 151.4h1.7v1.7h-1.7zM196.6 158.6h1.7v1.7h-1.7zM196.1 156.1h1.7v1.7h-1.7zM197.9 158.7h1.7v1.7h-1.7zM199.6 151.0h1.7v1.7h-1.7zM193.1 150.8h1.7v1.7h-1.7zM196.5 154.8h1.7v1.7h-1.7zM199.7 158.6h1.7v1.7h-1.7zM193.5 157.9h1.7v1.7h-1.7zM199.6 158.3h1.7v1.7h-1.7zM197.7 150.9h1.7v1.7h-1.7zM199.9 157.6h1.7v1.7h-1.7zM198.6 158.9h1.7v1.7h-1.7zM195.9 148.6h1.7v1.7h-1.7zM197.6 157.5h1.7v1.7h-1.7zM194.7 156.9h1.7v1.7h-1.7zM200.6 150.4h1.7v1.7h-1.7zM198.0 156.0h1.7v1.7h-1.7zM196.9 150.1h1.7v1.7h-1.7zM195.2 156.9h1.7v1.7h-1.7zM199.5 153.2h1.7v1.7h-1.7zM193.8 157.6h1.7v1.7h-1.7zM199.3 150.4h1.7v1.7h-1.7zM197.8 158.7h1.7v1.7h-1.7zM200.2 154.0h1.7v1.7h-1.7zM196.9 154.9h1.7v1.7h-1.7zM194.6 149.9h1.7v1.7h-1.7zM194.6 170.5h1.7v1.7h-1.7zM196.0 168.5h1.7v1.7h-1.7zM196.3 167.8h1.7v1.7h-1.7zM194.3 160.7h1.7v1.7h-1.7zM201.1 165.6h1.7v1.7h-1.7zM194.0 169.5h1.7v1.7h-1.7zM199.4 162.3h1.7v1.7h-1.7zM197.9 165.2h1.7v1.7h-1.7zM197.3 160.3h1.7v1.7h-1.7zM193.4 174.9h1.7v1.7h-1.7zM200.1 167.3h1.7v1.7h-1.7zM197.7 163.9h1.7v1.7h-1.7zM199.4 166.4h1.7v1.7h-1.7zM200.7 171.5h1.7v1.7h-1.7zM199.7 174.5h1.7v1.7h-1.7zM195.2 160.6h1.7v1.7h-1.7zM194.7 162.7h1.7v1.7h-1.7zM193.8 160.8h1.7v1.7h-1.7zM197.6 173.1h1.7v1.7h-1.7zM196.8 174.2h1.7v1.7h-1.7zM200.4 161.0h1.7v1.7h-1.7zM197.9 166.0h1.7v1.7h-1.7zM194.1 174.4h1.7v1.7h-1.7zM195.2 168.5h1.7v1.7h-1.7zM198.3 174.3h1.7v1.7h-1.7zM198.5 165.9h1.7v1.7h-1.7zM196.7 162.4h1.7v1.7h-1.7zM200.9 174.9h1.7v1.7h-1.7zM194.9 160.6h1.7v1.7h-1.7zM195.2 165.3h1.7v1.7h-1.7zM200.4 173.6h1.7v1.7h-1.7zM199.8 160.7h1.7v1.7h-1.7zM199.4 170.6h1.7v1.7h-1.7zM198.3 174.8h1.7v1.7h-1.7zM193.6 162.2h1.7v1.7h-1.7zM199.2 174.1h1.7v1.7h-1.7zM198.5 164.5h1.7v1.7h-1.7zM197.9 171.4h1.7v1.7h-1.7zM194.0 164.9h1.7v1.7h-1.7zM195.2 161.9h1.7v1.7h-1.7zM197.0 162.5h1.7v1.7h-1.7zM195.0 162.1h1.7v1.7h-1.7zM198.6 160.2h1.7v1.7h-1.7zM198.9 162.9h1.7v1.7h-1.7zM193.4 173.9h1.7v1.7h-1.7zM194.9 183.4h1.7v1.7h-1.7zM200.1 183.0h1.7v1.7h-1.7zM194.2 179.0h1.7v1.7h-1.7zM193.9 183.4h1.7v1.7h-1.7zM199.9 180.7h1.7v1.7h-1.7zM196.7 178.1h1.7v1.7h-1.7zM199.7 179.3h1.7v1.7h-1.7zM198.2 176.3h1.7v1.7h-1.7zM194.9 175.5h1.7v1.7h-1.7zM198.8 180.0h1.7v1.7h-1.7zM194.3 182.8h1.7v1.7h-1.7zM195.3 178.7h1.7v1.7h-1.7zM194.4 177.4h1.7v1.7h-1.7zM199.8 178.0h1.7v1.7h-1.7zM194.5 179.4h1.7v1.7h-1.7zM195.7 183.1h1.7v1.7h-1.7zM194.0 183.8h1.7v1.7h-1.7zM193.6 183.1h1.7v1.7h-1.7zM198.5 176.9h1.7v1.7h-1.7zM196.9 177.6h1.7v1.7h-1.7zM195.2 176.8h1.7v1.7h-1.7zM196.0 183.9h1.7v1.7h-1.7zM201.1 116.0h1.7v1.7h-1.7zM195.4 116.2h1.7v1.7h-1.7zM198.9 186.0h1.7v1.7h-1.7zM201.0 185.6h1.7v1.7h-1.7zM199.6 186.0h1.7v1.7h-1.7zM194.3 185.6h1.7v1.7h-1.7zM199.8 186.2h1.7v1.7h-1.7zM194.6 186.1h1.7v1.7h-1.7zM200.4 185.9h1.7v1.7h-1.7zM197.7 185.8h1.7v1.7h-1.7zM205.0 119.5h1.7v1.7h-1.7zM209.2 148.9h1.7v1.7h-1.7zM204.2 118.0h1.7v1.7h-1.7zM208.4 149.7h1.7v1.7h-1.7zM205.7 118.3h1.7v1.7h-1.7zM208.4 150.3h1.7v1.7h-1.7zM210.0 119.1h1.7v1.7h-1.7zM205.2 148.6h1.7v1.7h-1.7zM209.4 118.7h1.7v1.7h-1.7zM209.3 148.5h1.7v1.7h-1.7zM210.0 118.5h1.7v1.7h-1.7zM210.3 150.7h1.7v1.7h-1.7zM207.5 117.8h1.7v1.7h-1.7zM210.8 149.7h1.7v1.7h-1.7zM210.5 118.4h1.7v1.7h-1.7zM205.0 150.6h1.7v1.7h-1.7zM206.5 118.2h1.7v1.7h-1.7zM206.5 150.0h1.7v1.7h-1.7zM203.6 118.9h1.7v1.7h-1.7zM207.1 149.8h1.7v1.7h-1.7zM204.5 119.4h1.7v1.7h-1.7zM210.1 150.7h1.7v1.7h-1.7zM206.1 119.4h1.7v1.7h-1.7zM206.6 150.4h1.7v1.7h-1.7zM204.0 119.7h1.7v1.7h-1.7zM211.2 149.7h1.7v1.7h-1.7zM207.6 119.0h1.7v1.7h-1.7zM207.8 148.5h1.7v1.7h-1.7zM211.3 118.3h1.7v1.7h-1.7zM205.0 148.7h1.7v1.7h-1.7zM205.5 119.6h1.7v1.7h-1.7zM203.8 148.7h1.7v1.7h-1.7zM209.1 118.2h1.7v1.7h-1.7zM203.7 150.0h1.7v1.7h-1.7zM208.2 119.0h1.7v1.7h-1.7zM209.2 148.7h1.7v1.7h-1.7zM210.5 119.4h1.7v1.7h-1.7zM203.9 148.7h1.7v1.7h-1.7zM207.5 118.9h1.7v1.7h-1.7zM205.8 148.7h1.7v1.7h-1.7zM206.8 118.1h1.7v1.7h-1.7zM208.3 150.7h1.7v1.7h-1.7zM204.7 119.1h1.7v1.7h-1.7zM209.5 148.8h1.7v1.7h-1.7zM210.1 119.9h1.7v1.7h-1.7zM206.6 149.5h1.7v1.7h-1.7zM210.3 119.0h1.7v1.7h-1.7zM206.7 150.9h1.7v1.7h-1.7zM209.8 118.5h1.7v1.7h-1.7zM205.5 149.3h1.7v1.7h-1.7zM207.0 120.0h1.7v1.7h-1.7zM210.0 150.9h1.7v1.7h-1.7zM210.1 119.7h1.7v1.7h-1.7zM204.0 149.8h1.7v1.7h-1.7zM211.2 119.9h1.7v1.7h-1.7zM205.5 149.5h1.7v1.7h-1.7zM208.6 118.6h1.7v1.7h-1.7zM207.8 148.6h1.7v1.7h-1.7zM207.0 118.9h1.7v1.7h-1.7zM203.7 148.8h1.7v1.7h-1.7zM211.3 154.5h1.7v1.7h-1.7zM211.0 153.8h1.7v1.7h-1.7zM210.0 155.0h1.7v1.7h-1.7zM210.6 151.2h1.7v1.7h-1.7zM208.7 152.2h1.7v1.7h-1.7zM209.0 152.2h1.7v1.7h-1.7zM207.9 155.2h1.7v1.7h-1.7zM208.5 152.1h1.7v1.7h-1.7zM207.7 153.0h1.7v1.7h-1.7zM211.1 152.3h1.7v1.7h-1.7zM206.0 153.9h1.7v1.7h-1.7zM204.5 153.7h1.7v1.7h-1.7zM211.2 153.3h1.7v1.7h-1.7zM205.7 153.1h1.7v1.7h-1.7zM207.8 151.7h1.7v1.7h-1.7zM204.5 151.6h1.7v1.7h-1.7zM205.9 152.8h1.7v1.7h-1.7zM205.8 152.1h1.7v1.7h-1.7zM204.2 153.5h1.7v1.7h-1.7zM210.3 153.7h1.7v1.7h-1.7zM208.1 153.9h1.7v1.7h-1.7zM205.1 154.2h1.7v1.7h-1.7zM207.2 153.5h1.7v1.7h-1.7zM208.4 153.1h1.7v1.7h-1.7zM206.0 152.1h1.7v1.7h-1.7zM205.3 162.9h1.7v1.7h-1.7zM206.6 164.0h1.7v1.7h-1.7zM203.6 160.6h1.7v1.7h-1.7zM210.4 159.0h1.7v1.7h-1.7zM208.0 162.6h1.7v1.7h-1.7zM205.8 169.8h1.7v1.7h-1.7zM205.9 166.7h1.7v1.7h-1.7zM204.8 156.5h1.7v1.7h-1.7zM210.5 161.9h1.7v1.7h-1.7zM204.0 161.1h1.7v1.7h-1.7zM207.1 166.2h1.7v1.7h-1.7zM204.4 158.8h1.7v1.7h-1.7zM211.2 166.2h1.7v1.7h-1.7zM204.8 160.4h1.7v1.7h-1.7zM206.4 180.1h1.7v1.7h-1.7zM208.5 182.7h1.7v1.7h-1.7zM210.1 177.8h1.7v1.7h-1.7zM209.5 181.1h1.7v1.7h-1.7zM209.6 177.1h1.7v1.7h-1.7zM209.8 180.6h1.7v1.7h-1.7zM210.9 171.9h1.7v1.7h-1.7zM210.5 170.1h1.7v1.7h-1.7zM209.7 117.6h1.7v1.7h-1.7zM211.2 117.8h1.7v1.7h-1.7zM209.8 186.6h1.7v1.7h-1.7zM208.4 186.1h1.7v1.7h-1.7zM207.2 186.1h1.7v1.7h-1.7zM209.3 186.0h1.7v1.7h-1.7zM206.7 186.3h1.7v1.7h-1.7zM206.6 186.0h1.7v1.7h-1.7zM209.8 186.6h1.7v1.7h-1.7zM207.5 186.1h1.7v1.7h-1.7zM215.4 123.7h1.7v1.7h-1.7zM215.1 165.6h1.7v1.7h-1.7zM218.6 123.2h1.7v1.7h-1.7zM221.3 164.9h1.7v1.7h-1.7zM220.7 124.8h1.7v1.7h-1.7zM221.6 164.6h1.7v1.7h-1.7zM217.4 125.0h1.7v1.7h-1.7zM214.0 164.1h1.7v1.7h-1.7zM218.5 124.1h1.7v1.7h-1.7zM221.3 166.1h1.7v1.7h-1.7zM218.3 125.2h1.7v1.7h-1.7zM218.1 165.4h1.7v1.7h-1.7zM219.4 123.9h1.7v1.7h-1.7zM216.8 165.6h1.7v1.7h-1.7zM216.8 125.1h1.7v1.7h-1.7zM219.4 165.4h1.7v1.7h-1.7zM214.7 123.8h1.7v1.7h-1.7zM217.2 165.5h1.7v1.7h-1.7zM218.5 124.9h1.7v1.7h-1.7zM221.7 165.3h1.7v1.7h-1.7zM217.5 124.4h1.7v1.7h-1.7zM221.9 164.9h1.7v1.7h-1.7zM218.2 124.8h1.7v1.7h-1.7zM215.3 164.9h1.7v1.7h-1.7zM221.8 124.8h1.7v1.7h-1.7zM218.1 164.3h1.7v1.7h-1.7zM221.1 124.5h1.7v1.7h-1.7zM220.5 166.7h1.7v1.7h-1.7zM221.1 123.9h1.7v1.7h-1.7zM215.2 164.8h1.7v1.7h-1.7zM218.0 124.1h1.7v1.7h-1.7zM215.5 164.5h1.7v1.7h-1.7zM219.0 124.3h1.7v1.7h-1.7zM216.8 166.7h1.7v1.7h-1.7zM219.0 123.1h1.7v1.7h-1.7zM217.2 166.1h1.7v1.7h-1.7zM216.4 124.5h1.7v1.7h-1.7zM214.0 164.8h1.7v1.7h-1.7zM220.7 124.3h1.7v1.7h-1.7zM219.3 164.5h1.7v1.7h-1.7zM217.9 124.2h1.7v1.7h-1.7zM216.1 165.7h1.7v1.7h-1.7zM218.2 125.2h1.7v1.7h-1.7zM218.5 165.1h1.7v1.7h-1.7zM214.9 123.3h1.7v1.7h-1.7zM220.0 164.3h1.7v1.7h-1.7zM214.8 123.4h1.7v1.7h-1.7zM218.1 166.2h1.7v1.7h-1.7zM218.9 124.8h1.7v1.7h-1.7zM214.4 164.0h1.7v1.7h-1.7zM220.1 123.7h1.7v1.7h-1.7zM219.7 165.0h1.7v1.7h-1.7zM215.3 123.6h1.7v1.7h-1.7zM214.7 166.4h1.7v1.7h-1.7zM218.6 123.8h1.7v1.7h-1.7zM217.5 165.0h1.7v1.7h-1.7zM214.4 125.0h1.7v1.7h-1.7zM218.6 166.6h1.7v1.7h-1.7zM217.5 124.4h1.7v1.7h-1.7zM215.9 164.1h1.7v1.7h-1.7zM221.4 169.5h1.7v1.7h-1.7zM216.5 169.7h1.7v1.7h-1.7zM220.5 167.6h1.7v1.7h-1.7zM218.8 169.9h1.7v1.7h-1.7zM217.9 169.8h1.7v1.7h-1.7zM215.9 167.9h1.7v1.7h-1.7zM219.7 167.4h1.7v1.7h-1.7zM216.4 169.6h1.7v1.7h-1.7zM217.8 169.3h1.7v1.7h-1.7zM215.9 167.2h1.7v1.7h-1.7zM216.8 173.0h1.7v1.7h-1.7zM221.7 174.7h1.7v1.7h-1.7zM218.4 171.8h1.7v1.7h-1.7zM218.2 176.2h1.7v1.7h-1.7zM217.2 171.0h1.7v1.7h-1.7zM214.9 183.2h1.7v1.7h-1.7zM216.8 173.9h1.7v1.7h-1.7zM215.5 174.5h1.7v1.7h-1.7zM215.8 123.9h1.7v1.7h-1.7zM216.7 123.6h1.7v1.7h-1.7zM214.7 185.9h1.7v1.7h-1.7zM220.6 185.8h1.7v1.7h-1.7zM217.5 186.6h1.7v1.7h-1.7zM220.4 185.8h1.7v1.7h-1.7zM216.8 186.5h1.7v1.7h-1.7zM217.0 186.8h1.7v1.7h-1.7zM215.6 186.7h1.7v1.7h-1.7zM218.0 185.9h1.7v1.7h-1.7zM228.0 107.3h1.7v1.7h-1.7zM230.0 126.7h1.7v1.7h-1.7zM231.6 108.3h1.7v1.7h-1.7zM227.3 126.7h1.7v1.7h-1.7zM229.2 107.5h1.7v1.7h-1.7zM231.3 126.3h1.7v1.7h-1.7zM228.5 108.2h1.7v1.7h-1.7zM226.5 128.1h1.7v1.7h-1.7zM227.4 108.4h1.7v1.7h-1.7zM228.9 126.8h1.7v1.7h-1.7zM227.5 107.2h1.7v1.7h-1.7zM225.8 128.3h1.7v1.7h-1.7zM226.9 108.5h1.7v1.7h-1.7zM225.2 127.5h1.7v1.7h-1.7zM227.3 108.1h1.7v1.7h-1.7zM226.7 126.2h1.7v1.7h-1.7zM226.9 107.5h1.7v1.7h-1.7zM225.4 127.9h1.7v1.7h-1.7zM226.6 107.9h1.7v1.7h-1.7zM231.6 128.1h1.7v1.7h-1.7zM231.4 108.9h1.7v1.7h-1.7zM225.4 126.7h1.7v1.7h-1.7zM224.6 108.5h1.7v1.7h-1.7zM229.7 126.9h1.7v1.7h-1.7zM227.7 108.4h1.7v1.7h-1.7zM230.0 126.7h1.7v1.7h-1.7zM231.1 107.8h1.7v1.7h-1.7zM229.4 126.5h1.7v1.7h-1.7zM225.3 109.0h1.7v1.7h-1.7zM230.2 127.9h1.7v1.7h-1.7zM224.7 107.1h1.7v1.7h-1.7zM225.7 126.5h1.7v1.7h-1.7zM226.8 107.8h1.7v1.7h-1.7zM224.7 126.8h1.7v1.7h-1.7zM229.5 107.4h1.7v1.7h-1.7zM231.1 127.5h1.7v1.7h-1.7zM230.1 107.6h1.7v1.7h-1.7zM227.8 127.8h1.7v1.7h-1.7zM227.2 107.0h1.7v1.7h-1.7zM231.0 128.1h1.7v1.7h-1.7zM226.7 107.1h1.7v1.7h-1.7zM231.2 127.6h1.7v1.7h-1.7zM224.7 107.5h1.7v1.7h-1.7zM225.2 128.1h1.7v1.7h-1.7zM226.0 109.0h1.7v1.7h-1.7zM230.4 126.2h1.7v1.7h-1.7zM229.9 107.9h1.7v1.7h-1.7zM230.3 128.2h1.7v1.7h-1.7zM226.6 107.2h1.7v1.7h-1.7zM231.9 127.1h1.7v1.7h-1.7zM231.8 108.5h1.7v1.7h-1.7zM230.3 128.2h1.7v1.7h-1.7zM229.4 108.0h1.7v1.7h-1.7zM224.8 127.9h1.7v1.7h-1.7zM227.8 108.1h1.7v1.7h-1.7zM231.8 126.3h1.7v1.7h-1.7zM230.5 107.1h1.7v1.7h-1.7zM230.0 128.2h1.7v1.7h-1.7zM226.4 108.2h1.7v1.7h-1.7zM232.1 127.7h1.7v1.7h-1.7zM228.7 133.9h1.7v1.7h-1.7zM224.8 136.3h1.7v1.7h-1.7zM227.7 132.9h1.7v1.7h-1.7zM226.8 131.5h1.7v1.7h-1.7zM230.0 142.9h1.7v1.7h-1.7zM226.3 133.8h1.7v1.7h-1.7zM228.5 138.1h1.7v1.7h-1.7zM231.8 136.1h1.7v1.7h-1.7zM226.8 147.5h1.7v1.7h-1.7zM225.5 140.7h1.7v1.7h-1.7zM227.0 146.0h1.7v1.7h-1.7zM228.7 144.9h1.7v1.7h-1.7zM225.7 142.9h1.7v1.7h-1.7zM229.1 138.5h1.7v1.7h-1.7zM230.5 146.4h1.7v1.7h-1.7zM225.3 134.8h1.7v1.7h-1.7zM227.2 133.0h1.7v1.7h-1.7zM224.8 134.6h1.7v1.7h-1.7zM225.9 175.3h1.7v1.7h-1.7zM227.9 154.1h1.7v1.7h-1.7zM227.0 166.9h1.7v1.7h-1.7zM227.3 156.1h1.7v1.7h-1.7zM224.9 150.4h1.7v1.7h-1.7zM232.3 177.0h1.7v1.7h-1.7zM225.0 175.8h1.7v1.7h-1.7zM232.2 170.3h1.7v1.7h-1.7zM225.2 167.6h1.7v1.7h-1.7zM227.8 156.8h1.7v1.7h-1.7zM228.7 108.0h1.7v1.7h-1.7zM229.5 105.7h1.7v1.7h-1.7zM229.6 185.9h1.7v1.7h-1.7zM226.3 185.8h1.7v1.7h-1.7zM224.6 186.5h1.7v1.7h-1.7zM231.1 186.0h1.7v1.7h-1.7zM225.8 186.4h1.7v1.7h-1.7zM231.1 186.7h1.7v1.7h-1.7zM225.7 186.5h1.7v1.7h-1.7zM231.0 186.5h1.7v1.7h-1.7zM247.8 109.0h1.7v1.7h-1.7zM251.8 133.8h1.7v1.7h-1.7zM248.1 109.8h1.7v1.7h-1.7zM248.1 135.1h1.7v1.7h-1.7zM247.1 108.7h1.7v1.7h-1.7zM249.7 134.6h1.7v1.7h-1.7zM251.7 110.2h1.7v1.7h-1.7zM252.4 135.5h1.7v1.7h-1.7zM249.1 109.7h1.7v1.7h-1.7zM246.4 133.7h1.7v1.7h-1.7zM249.8 108.8h1.7v1.7h-1.7zM250.7 133.3h1.7v1.7h-1.7zM248.7 110.7h1.7v1.7h-1.7zM245.9 133.0h1.7v1.7h-1.7zM248.7 109.0h1.7v1.7h-1.7zM251.0 132.9h1.7v1.7h-1.7zM251.9 110.5h1.7v1.7h-1.7zM251.5 134.0h1.7v1.7h-1.7zM247.4 110.1h1.7v1.7h-1.7zM249.3 134.0h1.7v1.7h-1.7zM247.9 109.6h1.7v1.7h-1.7zM250.5 135.1h1.7v1.7h-1.7zM252.4 109.0h1.7v1.7h-1.7zM247.5 134.1h1.7v1.7h-1.7zM249.7 109.4h1.7v1.7h-1.7zM246.7 133.1h1.7v1.7h-1.7zM247.8 109.6h1.7v1.7h-1.7zM253.0 135.4h1.7v1.7h-1.7zM252.1 110.7h1.7v1.7h-1.7zM252.9 134.6h1.7v1.7h-1.7zM251.7 108.7h1.7v1.7h-1.7zM250.6 134.5h1.7v1.7h-1.7zM247.6 109.9h1.7v1.7h-1.7zM252.8 134.2h1.7v1.7h-1.7zM250.4 109.3h1.7v1.7h-1.7zM247.9 135.3h1.7v1.7h-1.7zM245.4 109.0h1.7v1.7h-1.7zM250.6 134.1h1.7v1.7h-1.7zM245.9 110.1h1.7v1.7h-1.7zM248.2 134.5h1.7v1.7h-1.7zM248.5 109.8h1.7v1.7h-1.7zM249.7 134.0h1.7v1.7h-1.7zM246.1 109.0h1.7v1.7h-1.7zM252.3 134.4h1.7v1.7h-1.7zM246.1 110.5h1.7v1.7h-1.7zM247.2 133.2h1.7v1.7h-1.7zM249.4 109.2h1.7v1.7h-1.7zM249.1 134.4h1.7v1.7h-1.7zM247.0 109.9h1.7v1.7h-1.7zM246.1 134.3h1.7v1.7h-1.7zM249.9 108.8h1.7v1.7h-1.7zM248.4 133.1h1.7v1.7h-1.7zM248.7 110.5h1.7v1.7h-1.7zM249.6 134.8h1.7v1.7h-1.7zM251.2 108.9h1.7v1.7h-1.7zM253.1 134.8h1.7v1.7h-1.7zM246.0 110.4h1.7v1.7h-1.7zM248.3 133.4h1.7v1.7h-1.7zM252.9 109.8h1.7v1.7h-1.7zM251.4 133.3h1.7v1.7h-1.7zM251.4 135.8h1.7v1.7h-1.7zM247.1 137.4h1.7v1.7h-1.7zM245.3 138.5h1.7v1.7h-1.7zM246.9 137.0h1.7v1.7h-1.7zM250.8 137.6h1.7v1.7h-1.7zM252.3 138.6h1.7v1.7h-1.7zM252.2 138.3h1.7v1.7h-1.7zM252.5 139.9h1.7v1.7h-1.7zM246.5 139.2h1.7v1.7h-1.7zM247.9 139.3h1.7v1.7h-1.7zM250.6 139.6h1.7v1.7h-1.7zM246.2 137.4h1.7v1.7h-1.7zM251.1 140.2h1.7v1.7h-1.7zM251.0 135.7h1.7v1.7h-1.7zM250.0 141.4h1.7v1.7h-1.7zM249.6 148.1h1.7v1.7h-1.7zM246.1 149.3h1.7v1.7h-1.7zM250.6 142.9h1.7v1.7h-1.7zM246.7 144.7h1.7v1.7h-1.7zM251.9 146.0h1.7v1.7h-1.7zM246.1 140.7h1.7v1.7h-1.7zM246.1 148.1h1.7v1.7h-1.7zM246.7 170.0h1.7v1.7h-1.7zM247.5 174.7h1.7v1.7h-1.7zM248.2 155.2h1.7v1.7h-1.7zM252.2 169.4h1.7v1.7h-1.7zM250.7 179.1h1.7v1.7h-1.7zM252.8 150.5h1.7v1.7h-1.7zM247.9 155.4h1.7v1.7h-1.7zM249.2 181.4h1.7v1.7h-1.7zM251.6 151.3h1.7v1.7h-1.7zM246.6 179.5h1.7v1.7h-1.7zM250.6 164.1h1.7v1.7h-1.7zM249.0 155.7h1.7v1.7h-1.7zM251.9 108.2h1.7v1.7h-1.7zM250.1 109.5h1.7v1.7h-1.7zM246.9 186.7h1.7v1.7h-1.7zM249.9 185.7h1.7v1.7h-1.7zM246.5 186.0h1.7v1.7h-1.7zM248.9 186.3h1.7v1.7h-1.7zM248.3 186.0h1.7v1.7h-1.7zM245.2 186.3h1.7v1.7h-1.7zM247.9 185.6h1.7v1.7h-1.7zM248.9 186.8h1.7v1.7h-1.7zM256.0 106.1h1.7v1.7h-1.7zM261.0 126.3h1.7v1.7h-1.7zM257.8 106.9h1.7v1.7h-1.7zM257.7 127.1h1.7v1.7h-1.7zM259.8 107.9h1.7v1.7h-1.7zM263.5 125.7h1.7v1.7h-1.7zM260.1 107.5h1.7v1.7h-1.7zM262.6 127.7h1.7v1.7h-1.7zM260.7 107.2h1.7v1.7h-1.7zM258.5 126.4h1.7v1.7h-1.7zM262.0 107.7h1.7v1.7h-1.7zM263.1 127.4h1.7v1.7h-1.7zM258.0 107.5h1.7v1.7h-1.7zM261.5 127.0h1.7v1.7h-1.7zM260.7 106.6h1.7v1.7h-1.7zM260.0 126.7h1.7v1.7h-1.7zM256.1 106.5h1.7v1.7h-1.7zM258.2 128.3h1.7v1.7h-1.7zM259.4 106.6h1.7v1.7h-1.7zM257.5 126.2h1.7v1.7h-1.7zM258.4 106.1h1.7v1.7h-1.7zM255.6 128.0h1.7v1.7h-1.7zM259.2 106.8h1.7v1.7h-1.7zM260.1 126.4h1.7v1.7h-1.7zM256.9 105.9h1.7v1.7h-1.7zM258.0 126.4h1.7v1.7h-1.7zM261.4 107.0h1.7v1.7h-1.7zM263.1 126.5h1.7v1.7h-1.7zM263.0 107.1h1.7v1.7h-1.7zM256.2 126.1h1.7v1.7h-1.7zM260.2 108.0h1.7v1.7h-1.7zM258.4 127.7h1.7v1.7h-1.7zM259.0 107.7h1.7v1.7h-1.7zM256.1 126.9h1.7v1.7h-1.7zM262.8 106.4h1.7v1.7h-1.7zM257.7 125.7h1.7v1.7h-1.7zM256.9 106.4h1.7v1.7h-1.7zM261.2 126.2h1.7v1.7h-1.7zM258.8 106.2h1.7v1.7h-1.7zM260.4 127.9h1.7v1.7h-1.7zM260.8 106.2h1.7v1.7h-1.7zM261.5 128.2h1.7v1.7h-1.7zM260.4 106.0h1.7v1.7h-1.7zM262.1 128.0h1.7v1.7h-1.7zM258.3 106.1h1.7v1.7h-1.7zM257.1 127.0h1.7v1.7h-1.7zM262.6 107.2h1.7v1.7h-1.7zM263.0 126.2h1.7v1.7h-1.7zM258.2 107.4h1.7v1.7h-1.7zM260.8 126.7h1.7v1.7h-1.7zM261.0 106.5h1.7v1.7h-1.7zM256.0 126.7h1.7v1.7h-1.7zM256.0 107.2h1.7v1.7h-1.7zM258.3 126.9h1.7v1.7h-1.7zM260.4 106.4h1.7v1.7h-1.7zM259.3 125.6h1.7v1.7h-1.7zM263.0 107.0h1.7v1.7h-1.7zM263.5 125.8h1.7v1.7h-1.7zM260.5 107.4h1.7v1.7h-1.7zM258.2 125.9h1.7v1.7h-1.7zM256.8 131.3h1.7v1.7h-1.7zM261.7 130.2h1.7v1.7h-1.7zM262.1 137.4h1.7v1.7h-1.7zM259.9 141.0h1.7v1.7h-1.7zM260.0 142.5h1.7v1.7h-1.7zM260.4 135.4h1.7v1.7h-1.7zM261.5 133.8h1.7v1.7h-1.7zM261.3 144.8h1.7v1.7h-1.7zM261.8 134.9h1.7v1.7h-1.7zM261.8 149.5h1.7v1.7h-1.7zM259.2 134.3h1.7v1.7h-1.7zM259.8 148.7h1.7v1.7h-1.7zM256.6 128.4h1.7v1.7h-1.7zM259.4 142.5h1.7v1.7h-1.7zM261.8 163.0h1.7v1.7h-1.7zM263.5 158.2h1.7v1.7h-1.7zM261.6 153.2h1.7v1.7h-1.7zM255.8 154.8h1.7v1.7h-1.7zM256.1 168.1h1.7v1.7h-1.7zM260.0 156.5h1.7v1.7h-1.7zM263.1 163.2h1.7v1.7h-1.7zM256.8 156.4h1.7v1.7h-1.7zM261.5 183.2h1.7v1.7h-1.7zM256.9 151.0h1.7v1.7h-1.7zM261.8 158.7h1.7v1.7h-1.7zM263.4 168.0h1.7v1.7h-1.7zM260.7 104.2h1.7v1.7h-1.7zM262.0 104.3h1.7v1.7h-1.7zM258.2 105.0h1.7v1.7h-1.7zM256.5 104.8h1.7v1.7h-1.7zM256.1 104.6h1.7v1.7h-1.7zM258.8 105.0h1.7v1.7h-1.7zM256.1 104.5h1.7v1.7h-1.7zM258.9 105.1h1.7v1.7h-1.7zM263.1 104.6h1.7v1.7h-1.7zM257.4 104.0h1.7v1.7h-1.7zM257.7 106.4h1.7v1.7h-1.7zM257.2 104.8h1.7v1.7h-1.7zM258.0 186.8h1.7v1.7h-1.7zM257.3 186.3h1.7v1.7h-1.7zM256.8 186.6h1.7v1.7h-1.7zM262.5 185.9h1.7v1.7h-1.7zM261.6 186.6h1.7v1.7h-1.7zM257.9 186.0h1.7v1.7h-1.7zM259.5 186.7h1.7v1.7h-1.7zM256.9 186.4h1.7v1.7h-1.7zM270.8 110.2h1.7v1.7h-1.7zM270.6 133.5h1.7v1.7h-1.7zM267.7 111.1h1.7v1.7h-1.7zM268.9 133.2h1.7v1.7h-1.7zM272.9 109.6h1.7v1.7h-1.7zM272.9 133.8h1.7v1.7h-1.7zM268.4 109.3h1.7v1.7h-1.7zM266.9 133.7h1.7v1.7h-1.7zM266.1 111.2h1.7v1.7h-1.7zM267.2 133.1h1.7v1.7h-1.7zM266.8 109.6h1.7v1.7h-1.7zM271.5 131.3h1.7v1.7h-1.7zM268.7 111.2h1.7v1.7h-1.7zM271.7 133.5h1.7v1.7h-1.7zM273.8 109.3h1.7v1.7h-1.7zM267.9 133.2h1.7v1.7h-1.7zM271.5 109.3h1.7v1.7h-1.7zM270.0 131.7h1.7v1.7h-1.7zM269.4 109.4h1.7v1.7h-1.7zM266.2 133.8h1.7v1.7h-1.7zM268.5 111.1h1.7v1.7h-1.7zM267.0 132.4h1.7v1.7h-1.7zM267.1 110.1h1.7v1.7h-1.7zM267.4 133.0h1.7v1.7h-1.7zM267.2 110.8h1.7v1.7h-1.7zM270.0 131.4h1.7v1.7h-1.7zM268.8 110.3h1.7v1.7h-1.7zM273.3 132.0h1.7v1.7h-1.7zM267.7 111.3h1.7v1.7h-1.7zM273.1 133.1h1.7v1.7h-1.7zM268.2 109.6h1.7v1.7h-1.7zM268.1 131.3h1.7v1.7h-1.7zM266.3 110.3h1.7v1.7h-1.7zM269.3 132.6h1.7v1.7h-1.7zM268.9 109.2h1.7v1.7h-1.7zM271.5 132.9h1.7v1.7h-1.7zM270.4 110.4h1.7v1.7h-1.7zM271.5 133.8h1.7v1.7h-1.7zM273.0 110.8h1.7v1.7h-1.7zM269.2 132.0h1.7v1.7h-1.7zM269.4 111.3h1.7v1.7h-1.7zM269.1 132.1h1.7v1.7h-1.7zM269.3 109.5h1.7v1.7h-1.7zM274.0 131.1h1.7v1.7h-1.7zM270.9 111.2h1.7v1.7h-1.7zM268.0 132.7h1.7v1.7h-1.7zM269.0 109.7h1.7v1.7h-1.7zM267.6 131.4h1.7v1.7h-1.7zM272.7 110.9h1.7v1.7h-1.7zM273.3 131.2h1.7v1.7h-1.7zM271.6 109.9h1.7v1.7h-1.7zM271.2 132.6h1.7v1.7h-1.7zM268.5 111.3h1.7v1.7h-1.7zM266.0 133.1h1.7v1.7h-1.7zM272.8 110.3h1.7v1.7h-1.7zM270.7 133.8h1.7v1.7h-1.7zM267.9 110.6h1.7v1.7h-1.7zM271.9 132.1h1.7v1.7h-1.7zM271.7 110.1h1.7v1.7h-1.7zM270.2 132.8h1.7v1.7h-1.7zM271.4 139.0h1.7v1.7h-1.7zM271.0 142.6h1.7v1.7h-1.7zM267.8 143.7h1.7v1.7h-1.7zM268.1 148.5h1.7v1.7h-1.7zM269.8 145.5h1.7v1.7h-1.7zM270.2 141.5h1.7v1.7h-1.7zM267.8 136.0h1.7v1.7h-1.7zM273.4 142.3h1.7v1.7h-1.7zM270.2 142.3h1.7v1.7h-1.7zM272.5 137.6h1.7v1.7h-1.7zM267.4 147.1h1.7v1.7h-1.7zM269.7 144.1h1.7v1.7h-1.7zM272.6 148.3h1.7v1.7h-1.7zM272.9 134.4h1.7v1.7h-1.7zM269.1 147.3h1.7v1.7h-1.7zM272.5 135.7h1.7v1.7h-1.7zM267.2 159.1h1.7v1.7h-1.7zM266.8 162.8h1.7v1.7h-1.7zM272.4 168.8h1.7v1.7h-1.7zM269.6 153.2h1.7v1.7h-1.7zM269.2 185.9h1.7v1.7h-1.7zM271.6 166.2h1.7v1.7h-1.7zM269.8 178.7h1.7v1.7h-1.7zM272.1 155.4h1.7v1.7h-1.7zM271.4 163.2h1.7v1.7h-1.7zM270.2 158.6h1.7v1.7h-1.7zM269.0 162.2h1.7v1.7h-1.7zM269.0 150.6h1.7v1.7h-1.7zM267.6 170.5h1.7v1.7h-1.7zM266.5 156.4h1.7v1.7h-1.7zM271.7 109.8h1.7v1.7h-1.7zM267.9 109.9h1.7v1.7h-1.7zM271.1 186.6h1.7v1.7h-1.7zM267.6 186.1h1.7v1.7h-1.7zM272.3 186.3h1.7v1.7h-1.7zM269.0 185.7h1.7v1.7h-1.7zM269.5 186.0h1.7v1.7h-1.7zM271.7 186.0h1.7v1.7h-1.7zM269.3 186.4h1.7v1.7h-1.7zM272.5 186.0h1.7v1.7h-1.7zM217.3 166.3h1.7v1.7h-1.7zM220.7 164.8h1.7v1.7h-1.7zM221.0 166.8h1.7v1.7h-1.7zM217.3 166.7h1.7v1.7h-1.7zM217.0 164.3h1.7v1.7h-1.7zM219.6 165.5h1.7v1.7h-1.7zM218.2 166.0h1.7v1.7h-1.7zM220.5 167.0h1.7v1.7h-1.7zM215.1 166.4h1.7v1.7h-1.7zM217.8 165.8h1.7v1.7h-1.7zM220.2 165.7h1.7v1.7h-1.7zM217.9 167.6h1.7v1.7h-1.7zM217.7 166.0h1.7v1.7h-1.7zM218.1 167.3h1.7v1.7h-1.7zM219.1 167.0h1.7v1.7h-1.7zM217.4 164.2h1.7v1.7h-1.7zM219.2 166.2h1.7v1.7h-1.7zM219.7 167.1h1.7v1.7h-1.7zM215.7 164.9h1.7v1.7h-1.7zM215.4 167.3h1.7v1.7h-1.7zM215.6 164.4h1.7v1.7h-1.7zM219.6 166.3h1.7v1.7h-1.7zM215.3 166.7h1.7v1.7h-1.7zM219.4 165.9h1.7v1.7h-1.7zM215.3 166.8h1.7v1.7h-1.7zM217.5 166.3h1.7v1.7h-1.7zM221.1 167.3h1.7v1.7h-1.7zM220.4 164.6h1.7v1.7h-1.7zM217.0 166.1h1.7v1.7h-1.7zM215.0 168.0h1.7v1.7h-1.7zM237.0 125.4h1.7v1.7h-1.7zM237.3 125.3h1.7v1.7h-1.7zM241.6 128.0h1.7v1.7h-1.7zM238.9 126.8h1.7v1.7h-1.7zM235.2 125.7h1.7v1.7h-1.7zM241.7 130.2h1.7v1.7h-1.7zM241.6 125.3h1.7v1.7h-1.7zM236.4 123.5h1.7v1.7h-1.7zM239.1 126.4h1.7v1.7h-1.7zM238.5 127.4h1.7v1.7h-1.7zM239.4 126.3h1.7v1.7h-1.7zM241.2 124.8h1.7v1.7h-1.7zM242.1 128.0h1.7v1.7h-1.7zM235.2 125.8h1.7v1.7h-1.7zM239.0 126.7h1.7v1.7h-1.7zM239.3 125.9h1.7v1.7h-1.7zM237.0 130.2h1.7v1.7h-1.7zM237.1 129.4h1.7v1.7h-1.7zM241.2 128.3h1.7v1.7h-1.7zM238.4 131.4h1.7v1.7h-1.7zM238.3 130.9h1.7v1.7h-1.7zM235.2 126.9h1.7v1.7h-1.7zM239.9 123.4h1.7v1.7h-1.7zM241.7 123.6h1.7v1.7h-1.7zM239.5 124.6h1.7v1.7h-1.7zM242.1 128.0h1.7v1.7h-1.7zM241.2 127.5h1.7v1.7h-1.7zM240.2 129.1h1.7v1.7h-1.7zM237.1 124.9h1.7v1.7h-1.7zM241.5 124.3h1.7v1.7h-1.7zM242.1 124.9h1.7v1.7h-1.7zM235.6 123.9h1.7v1.7h-1.7zM241.0 131.6h1.7v1.7h-1.7zM238.1 128.9h1.7v1.7h-1.7zM236.8 131.2h1.7v1.7h-1.7zM240.3 124.4h1.7v1.7h-1.7zM235.2 129.3h1.7v1.7h-1.7zM235.1 130.5h1.7v1.7h-1.7zM237.1 125.1h1.7v1.7h-1.7zM239.4 125.9h1.7v1.7h-1.7zM239.3 124.4h1.7v1.7h-1.7zM242.1 125.9h1.7v1.7h-1.7zM241.5 124.4h1.7v1.7h-1.7zM241.2 131.8h1.7v1.7h-1.7zM237.9 123.3h1.7v1.7h-1.7zM237.8 141.0h1.7v1.7h-1.7zM236.6 139.6h1.7v1.7h-1.7zM235.5 138.5h1.7v1.7h-1.7zM240.6 138.0h1.7v1.7h-1.7zM240.2 133.6h1.7v1.7h-1.7zM241.4 133.7h1.7v1.7h-1.7zM242.2 145.9h1.7v1.7h-1.7zM242.3 139.4h1.7v1.7h-1.7zM237.1 136.9h1.7v1.7h-1.7zM240.8 139.0h1.7v1.7h-1.7zM242.2 133.3h1.7v1.7h-1.7zM238.6 144.1h1.7v1.7h-1.7zM239.6 139.6h1.7v1.7h-1.7zM235.5 134.0h1.7v1.7h-1.7zM236.9 144.5h1.7v1.7h-1.7zM241.5 135.2h1.7v1.7h-1.7zM242.2 132.5h1.7v1.7h-1.7zM239.6 145.5h1.7v1.7h-1.7zM237.5 145.2h1.7v1.7h-1.7zM240.0 132.7h1.7v1.7h-1.7zM237.4 138.3h1.7v1.7h-1.7zM236.7 142.4h1.7v1.7h-1.7zM236.2 143.0h1.7v1.7h-1.7zM237.2 133.0h1.7v1.7h-1.7zM239.2 133.3h1.7v1.7h-1.7zM239.2 143.0h1.7v1.7h-1.7zM239.5 138.5h1.7v1.7h-1.7zM235.0 139.2h1.7v1.7h-1.7zM235.5 141.1h1.7v1.7h-1.7zM235.8 140.1h1.7v1.7h-1.7zM237.6 137.2h1.7v1.7h-1.7zM240.1 134.3h1.7v1.7h-1.7zM236.1 145.2h1.7v1.7h-1.7zM237.4 143.8h1.7v1.7h-1.7zM241.8 138.7h1.7v1.7h-1.7zM236.0 133.3h1.7v1.7h-1.7zM241.8 133.6h1.7v1.7h-1.7zM238.7 139.5h1.7v1.7h-1.7zM235.7 138.5h1.7v1.7h-1.7zM236.1 139.5h1.7v1.7h-1.7zM238.8 137.1h1.7v1.7h-1.7zM236.4 137.7h1.7v1.7h-1.7zM236.4 133.8h1.7v1.7h-1.7zM236.7 144.2h1.7v1.7h-1.7zM238.8 144.5h1.7v1.7h-1.7zM234.9 145.2h1.7v1.7h-1.7zM238.7 143.1h1.7v1.7h-1.7zM239.3 141.6h1.7v1.7h-1.7zM236.6 142.5h1.7v1.7h-1.7zM236.0 135.7h1.7v1.7h-1.7zM235.0 137.5h1.7v1.7h-1.7zM238.9 136.1h1.7v1.7h-1.7zM241.9 133.2h1.7v1.7h-1.7zM239.4 135.3h1.7v1.7h-1.7zM239.5 143.0h1.7v1.7h-1.7zM240.5 132.9h1.7v1.7h-1.7zM236.7 140.4h1.7v1.7h-1.7zM242.6 132.6h1.7v1.7h-1.7zM239.7 141.7h1.7v1.7h-1.7zM241.3 136.8h1.7v1.7h-1.7zM241.3 138.5h1.7v1.7h-1.7zM242.1 132.2h1.7v1.7h-1.7zM242.3 137.8h1.7v1.7h-1.7zM238.0 133.2h1.7v1.7h-1.7zM236.7 142.3h1.7v1.7h-1.7zM240.2 134.1h1.7v1.7h-1.7zM237.5 134.0h1.7v1.7h-1.7zM236.4 135.1h1.7v1.7h-1.7zM237.4 145.7h1.7v1.7h-1.7zM242.7 143.1h1.7v1.7h-1.7zM238.6 139.0h1.7v1.7h-1.7zM241.0 144.7h1.7v1.7h-1.7zM240.8 140.9h1.7v1.7h-1.7zM236.4 140.8h1.7v1.7h-1.7zM241.5 143.0h1.7v1.7h-1.7zM235.5 142.0h1.7v1.7h-1.7zM237.6 134.3h1.7v1.7h-1.7zM242.5 141.4h1.7v1.7h-1.7zM240.7 133.9h1.7v1.7h-1.7zM241.4 145.1h1.7v1.7h-1.7zM242.0 142.4h1.7v1.7h-1.7zM241.4 143.2h1.7v1.7h-1.7zM239.5 138.1h1.7v1.7h-1.7zM241.4 143.0h1.7v1.7h-1.7zM241.7 136.2h1.7v1.7h-1.7zM242.5 139.4h1.7v1.7h-1.7zM242.3 133.6h1.7v1.7h-1.7zM242.5 143.0h1.7v1.7h-1.7zM236.8 143.7h1.7v1.7h-1.7zM236.6 134.8h1.7v1.7h-1.7zM238.4 135.3h1.7v1.7h-1.7zM238.7 144.7h1.7v1.7h-1.7zM240.3 141.9h1.7v1.7h-1.7zM237.9 143.0h1.7v1.7h-1.7zM241.1 141.6h1.7v1.7h-1.7zM242.3 143.6h1.7v1.7h-1.7zM238.0 133.2h1.7v1.7h-1.7zM240.0 143.7h1.7v1.7h-1.7zM237.5 140.3h1.7v1.7h-1.7zM241.5 143.1h1.7v1.7h-1.7zM234.8 138.8h1.7v1.7h-1.7zM234.9 133.5h1.7v1.7h-1.7zM241.3 137.9h1.7v1.7h-1.7zM239.6 138.4h1.7v1.7h-1.7zM237.5 135.0h1.7v1.7h-1.7zM237.6 143.8h1.7v1.7h-1.7zM239.7 136.1h1.7v1.7h-1.7zM235.5 135.8h1.7v1.7h-1.7zM240.4 138.2h1.7v1.7h-1.7zM240.1 143.3h1.7v1.7h-1.7zM235.7 141.6h1.7v1.7h-1.7zM235.1 143.5h1.7v1.7h-1.7zM236.2 135.8h1.7v1.7h-1.7zM242.4 137.1h1.7v1.7h-1.7zM236.6 144.5h1.7v1.7h-1.7zM239.7 144.5h1.7v1.7h-1.7zM237.9 139.0h1.7v1.7h-1.7zM242.4 139.1h1.7v1.7h-1.7zM242.7 134.7h1.7v1.7h-1.7zM241.4 134.3h1.7v1.7h-1.7zM238.9 146.0h1.7v1.7h-1.7zM235.9 187.6h1.7v1.7h-1.7zM238.3 181.6h1.7v1.7h-1.7zM236.5 161.5h1.7v1.7h-1.7zM235.2 170.3h1.7v1.7h-1.7zM241.8 168.6h1.7v1.7h-1.7zM237.6 186.9h1.7v1.7h-1.7zM242.1 175.3h1.7v1.7h-1.7zM235.0 173.5h1.7v1.7h-1.7zM238.2 188.1h1.7v1.7h-1.7zM237.5 175.1h1.7v1.7h-1.7zM239.8 162.5h1.7v1.7h-1.7zM238.9 175.8h1.7v1.7h-1.7zM242.2 167.9h1.7v1.7h-1.7zM237.5 189.0h1.7v1.7h-1.7zM234.9 182.7h1.7v1.7h-1.7zM240.2 170.5h1.7v1.7h-1.7zM238.2 179.0h1.7v1.7h-1.7zM242.0 178.1h1.7v1.7h-1.7zM240.8 147.5h1.7v1.7h-1.7zM237.2 152.0h1.7v1.7h-1.7zM242.6 185.2h1.7v1.7h-1.7zM235.6 171.9h1.7v1.7h-1.7zM239.3 148.1h1.7v1.7h-1.7zM237.7 178.9h1.7v1.7h-1.7zM239.9 158.4h1.7v1.7h-1.7zM240.9 158.8h1.7v1.7h-1.7zM239.1 164.5h1.7v1.7h-1.7zM242.8 174.5h1.7v1.7h-1.7zM241.3 175.8h1.7v1.7h-1.7zM237.6 188.4h1.7v1.7h-1.7zM240.5 176.4h1.7v1.7h-1.7zM236.8 153.1h1.7v1.7h-1.7zM239.3 182.3h1.7v1.7h-1.7zM241.2 161.3h1.7v1.7h-1.7zM235.6 168.7h1.7v1.7h-1.7zM241.9 153.1h1.7v1.7h-1.7zM240.7 153.5h1.7v1.7h-1.7zM237.1 148.4h1.7v1.7h-1.7zM236.9 162.9h1.7v1.7h-1.7zM242.7 188.3h1.7v1.7h-1.7zM236.0 159.6h1.7v1.7h-1.7zM242.5 154.7h1.7v1.7h-1.7zM237.1 165.3h1.7v1.7h-1.7zM235.3 157.4h1.7v1.7h-1.7zM237.8 163.0h1.7v1.7h-1.7zM242.7 157.7h1.7v1.7h-1.7zM236.1 186.0h1.7v1.7h-1.7zM238.2 182.8h1.7v1.7h-1.7zM239.8 180.3h1.7v1.7h-1.7zM237.1 152.7h1.7v1.7h-1.7zM240.9 166.7h1.7v1.7h-1.7zM239.2 175.5h1.7v1.7h-1.7zM240.8 158.1h1.7v1.7h-1.7zM237.5 186.4h1.7v1.7h-1.7zM238.9 158.7h1.7v1.7h-1.7zM239.8 157.4h1.7v1.7h-1.7zM241.0 147.8h1.7v1.7h-1.7zM241.5 170.9h1.7v1.7h-1.7zM237.4 187.4h1.7v1.7h-1.7zM236.7 156.7h1.7v1.7h-1.7zM235.0 170.1h1.7v1.7h-1.7zM240.9 175.8h1.7v1.7h-1.7zM237.9 181.5h1.7v1.7h-1.7zM235.3 159.5h1.7v1.7h-1.7zM239.9 188.6h1.7v1.7h-1.7zM239.8 176.4h1.7v1.7h-1.7zM241.0 163.4h1.7v1.7h-1.7zM242.5 178.7h1.7v1.7h-1.7zM237.3 163.3h1.7v1.7h-1.7zM241.2 115.8h1.7v1.7h-1.7zM236.3 121.6h1.7v1.7h-1.7zM239.0 117.7h1.7v1.7h-1.7zM240.1 121.9h1.7v1.7h-1.7zM235.8 115.7h1.7v1.7h-1.7zM235.3 116.5h1.7v1.7h-1.7zM238.8 121.4h1.7v1.7h-1.7zM240.1 118.4h1.7v1.7h-1.7zM238.0 118.3h1.7v1.7h-1.7zM237.0 121.3h1.7v1.7h-1.7zM90.9 11.1h1.7v1.7h-1.7zM95.9 16.3h1.7v1.7h-1.7zM101.1 16.0h1.7v1.7h-1.7zM99.9 18.4h1.7v1.7h-1.7zM103.5 18.4h1.7v1.7h-1.7zM105.9 18.4h1.7v1.7h-1.7zM95.8 29.6h1.7v1.7h-1.7zM173.1 21.6h1.7v1.7h-1.7zM174.8 18.3h1.7v1.7h-1.7zM175.9 18.3h1.7v1.7h-1.7zM175.1 42.0h1.7v1.7h-1.7zM180.0 48.6h1.7v1.7h-1.7zM190.6 29.0h1.7v1.7h-1.7zM227.4 31.4h1.7v1.7h-1.7zM229.1 45.6h1.7v1.7h-1.7zM231.5 48.4h1.7v1.7h-1.7zM225.3 53.8h1.7v1.7h-1.7zM245.4 50.9h1.7v1.7h-1.7zM249.0 51.2h1.7v1.7h-1.7zM252.4 56.9h1.7v1.7h-1.7zM102.3 63.3h1.7v1.7h-1.7zM113.1 62.5h1.7v1.7h-1.7zM105.6 93.5h1.7v1.7h-1.7zM113.1 91.9h1.7v1.7h-1.7zM121.5 95.9h1.7v1.7h-1.7zM121.5 97.8h1.7v1.7h-1.7zM124.7 99.1h1.7v1.7h-1.7zM127.9 100.3h1.7v1.7h-1.7zM135.1 99.1h1.7v1.7h-1.7zM92.3 107.2h1.7v1.7h-1.7zM125.2 113.9h1.7v1.7h-1.7zM127.3 117.4h1.7v1.7h-1.7zM183.8 74.2h1.7v1.7h-1.7zM176.8 83.9h1.7v1.7h-1.7zM180.1 90.1h1.7v1.7h-1.7zM200.3 99.2h1.7v1.7h-1.7zM197.6 110.2h1.7v1.7h-1.7zM204.6 106.2h1.7v1.7h-1.7zM209.5 109.2h1.7v1.7h-1.7zM225.2 92.1h1.7v1.7h-1.7zM228.9 83.9h1.7v1.7h-1.7zM231.6 97.7h1.7v1.7h-1.7zM230.7 99.8h1.7v1.7h-1.7zM238.6 83.1h1.7v1.7h-1.7zM239.6 91.3h1.7v1.7h-1.7zM248.0 92.1h1.7v1.7h-1.7zM247.1 96.2h1.7v1.7h-1.7zM249.5 97.7h1.7v1.7h-1.7zM251.3 97.3h1.7v1.7h-1.7zM246.8 100.7h1.7v1.7h-1.7zM256.5 96.5h1.7v1.7h-1.7zM259.1 83.9h1.7v1.7h-1.7zM263.2 88.3h1.7v1.7h-1.7zM263.9 92.8h1.7v1.7h-1.7zM262.4 95.0h1.7v1.7h-1.7zM260.9 97.7h1.7v1.7h-1.7zM257.2 100.2h1.7v1.7h-1.7zM268.1 90.9h1.7v1.7h-1.7zM270.9 82.4h1.7v1.7h-1.7zM267.3 97.3h1.7v1.7h-1.7zM267.6 101.7h1.7v1.7h-1.7zM269.9 103.7h1.7v1.7h-1.7zM272.1 103.7h1.7v1.7h-1.7zM228.3 103.3h1.7v1.7h-1.7zM230.3 103.8h1.7v1.7h-1.7zM227.8 105.3h1.7v1.7h-1.7zM231.8 105.8h1.7v1.7h-1.7zM257.3 103.7h1.7v1.7h-1.7zM259.3 103.7h1.7v1.7h-1.7zM261.8 103.7h1.7v1.7h-1.7z" fill="#BBBEC0"/>
<line x1="57" y1="62" x2="276.3" y2="62" stroke="#EC3F4A" stroke-width="1.15" stroke-dasharray="1.25 1.25"/>
<line x1="54.2" y1="19.2" x2="56.5" y2="19.2" stroke="#999" stroke-width="0.8"/>
<text transform="translate(52 21.4) scale(1.0 1.1)" font-size="12.2" text-anchor="end" fill="#333">2.0</text>
<line x1="54.2" y1="61.75" x2="56.5" y2="61.75" stroke="#999" stroke-width="0.8"/>
<text transform="translate(52 63.95) scale(1.0 1.1)" font-size="12.2" text-anchor="end" fill="#333">1.5</text>
<line x1="54.2" y1="104.3" x2="56.5" y2="104.3" stroke="#999" stroke-width="0.8"/>
<text transform="translate(52 106.5) scale(1.0 1.1)" font-size="12.2" text-anchor="end" fill="#333">1.0</text>
<line x1="54.2" y1="146.85" x2="56.5" y2="146.85" stroke="#999" stroke-width="0.8"/>
<text transform="translate(52 149.05) scale(1.0 1.1)" font-size="12.2" text-anchor="end" fill="#333">0.5</text>
<line x1="54.2" y1="189.4" x2="56.5" y2="189.4" stroke="#999" stroke-width="0.8"/>
<text transform="translate(52 191.6) scale(1.0 1.1)" font-size="12.2" text-anchor="end" fill="#333">0.0</text>
<line x1="62.4" y1="198.4" x2="62.4" y2="200.4" stroke="#999" stroke-width="0.8"/>
<text transform="translate(62.4 208.3) scale(1.0 1.15)" font-size="7.3" text-anchor="middle" fill="#333">1</text>
<line x1="72.81" y1="198.4" x2="72.81" y2="200.4" stroke="#999" stroke-width="0.8"/>
<text transform="translate(72.81 208.3) scale(1.0 1.15)" font-size="7.3" text-anchor="middle" fill="#333">2</text>
<line x1="83.22" y1="198.4" x2="83.22" y2="200.4" stroke="#999" stroke-width="0.8"/>
<text transform="translate(83.22 208.3) scale(1.0 1.15)" font-size="7.3" text-anchor="middle" fill="#333">3</text>
<line x1="93.63" y1="198.4" x2="93.63" y2="200.4" stroke="#999" stroke-width="0.8"/>
<text transform="translate(93.63 208.3) scale(1.0 1.15)" font-size="7.3" text-anchor="middle" fill="#333">4</text>
<line x1="104.04" y1="198.4" x2="104.04" y2="200.4" stroke="#999" stroke-width="0.8"/>
<text transform="translate(104.04 208.3) scale(1.0 1.15)" font-size="7.3" text-anchor="middle" fill="#333">5</text>
<line x1="114.45" y1="198.4" x2="114.45" y2="200.4" stroke="#999" stroke-width="0.8"/>
<text transform="translate(114.45 208.3) scale(1.0 1.15)" font-size="7.3" text-anchor="middle" fill="#333">6</text>
<line x1="124.86" y1="198.4" x2="124.86" y2="200.4" stroke="#999" stroke-width="0.8"/>
<text transform="translate(124.86 208.3) scale(1.0 1.15)" font-size="7.3" text-anchor="middle" fill="#333">7</text>
<line x1="135.27" y1="198.4" x2="135.27" y2="200.4" stroke="#999" stroke-width="0.8"/>
<text transform="translate(135.27 208.3) scale(1.0 1.15)" font-size="7.3" text-anchor="middle" fill="#333">8</text>
<line x1="145.68" y1="198.4" x2="145.68" y2="200.4" stroke="#999" stroke-width="0.8"/>
<text transform="translate(145.68 208.3) scale(1.0 1.15)" font-size="7.3" text-anchor="middle" fill="#333">9</text>
<line x1="156.09" y1="198.4" x2="156.09" y2="200.4" stroke="#999" stroke-width="0.8"/>
<text transform="translate(156.09 208.3) scale(1.0 1.15)" font-size="7.3" text-anchor="middle" fill="#333">10</text>
<line x1="166.5" y1="198.4" x2="166.5" y2="200.4" stroke="#999" stroke-width="0.8"/>
<text transform="translate(166.5 208.3) scale(1.0 1.15)" font-size="7.3" text-anchor="middle" fill="#333">11</text>
<line x1="176.91" y1="198.4" x2="176.91" y2="200.4" stroke="#999" stroke-width="0.8"/>
<text transform="translate(176.91 208.3) scale(1.0 1.15)" font-size="7.3" text-anchor="middle" fill="#333">12</text>
<line x1="187.32" y1="198.4" x2="187.32" y2="200.4" stroke="#999" stroke-width="0.8"/>
<text transform="translate(187.32 208.3) scale(1.0 1.15)" font-size="7.3" text-anchor="middle" fill="#333">13</text>
<line x1="197.73" y1="198.4" x2="197.73" y2="200.4" stroke="#999" stroke-width="0.8"/>
<text transform="translate(197.73 208.3) scale(1.0 1.15)" font-size="7.3" text-anchor="middle" fill="#333">14</text>
<line x1="208.14" y1="198.4" x2="208.14" y2="200.4" stroke="#999" stroke-width="0.8"/>
<text transform="translate(208.14 208.3) scale(1.0 1.15)" font-size="7.3" text-anchor="middle" fill="#333">15</text>
<line x1="218.55" y1="198.4" x2="218.55" y2="200.4" stroke="#999" stroke-width="0.8"/>
<text transform="translate(218.55 208.3) scale(1.0 1.15)" font-size="7.3" text-anchor="middle" fill="#333">16</text>
<line x1="228.96" y1="198.4" x2="228.96" y2="200.4" stroke="#999" stroke-width="0.8"/>
<text transform="translate(228.96 208.3) scale(1.0 1.15)" font-size="7.3" text-anchor="middle" fill="#333">17</text>
<line x1="239.37" y1="198.4" x2="239.37" y2="200.4" stroke="#999" stroke-width="0.8"/>
<text transform="translate(239.37 208.3) scale(1.0 1.15)" font-size="7.3" text-anchor="middle" fill="#333">18</text>
<line x1="249.78" y1="198.4" x2="249.78" y2="200.4" stroke="#999" stroke-width="0.8"/>
<text transform="translate(249.78 208.3) scale(1.0 1.15)" font-size="7.3" text-anchor="middle" fill="#333">19</text>
<line x1="260.19" y1="198.4" x2="260.19" y2="200.4" stroke="#999" stroke-width="0.8"/>
<text transform="translate(260.19 208.3) scale(1.0 1.15)" font-size="7.3" text-anchor="middle" fill="#333">20</text>
<line x1="270.6" y1="198.4" x2="270.6" y2="200.4" stroke="#999" stroke-width="0.8"/>
<text transform="translate(270.6 208.3) scale(1.0 1.15)" font-size="7.3" text-anchor="middle" fill="#333">21</text>
<line x1="192.4" y1="198.4" x2="192.4" y2="216" stroke="#555" stroke-width="0.8"/>
<text x="105.3" y="225.3" font-size="10" text-anchor="middle" fill="#222">core</text>
<text x="105.3" y="236.6" font-size="10" text-anchor="middle" fill="#222">chromosomes</text>
<text x="235" y="225.3" font-size="10" text-anchor="middle" fill="#222">accessory</text>
<text x="235" y="236.6" font-size="10" text-anchor="middle" fill="#222">chromosomes</text>
<text x="18.2" y="102" font-size="9.75" text-anchor="middle" fill="#222" transform="rotate(-90 18.2 102)">Normalized read count</text>
<rect x="482.5" y="7.6" width="80.7" height="21.7" fill="#FFFFFF" stroke="#CFCFCF" stroke-width="1"/>
<text x="523.15" y="22.3" font-size="11.4" text-anchor="middle" fill="#222">Chr.9</text>
<rect x="482.5" y="29.3" width="80.7" height="53.7" fill="none" stroke="#CFCFCF" stroke-width="1"/>
<line x1="482.5" y1="29.3" x2="563.2" y2="29.3" stroke="#8C8C8C" stroke-width="1.1"/>
<line x1="479.2" y1="30.7" x2="482.5" y2="30.7" stroke="#BBBBBB" stroke-width="0.8"/>
<text transform="translate(475.8 34.6) scale(1.0 1.18)" font-size="9.3" text-anchor="end" fill="#333">0.125</text>
<line x1="479.2" y1="40.65" x2="482.5" y2="40.65" stroke="#BBBBBB" stroke-width="0.8"/>
<text transform="translate(475.8 44.55) scale(1.0 1.18)" font-size="9.3" text-anchor="end" fill="#333">0.100</text>
<line x1="479.2" y1="50.6" x2="482.5" y2="50.6" stroke="#BBBBBB" stroke-width="0.8"/>
<text transform="translate(475.8 54.5) scale(1.0 1.18)" font-size="9.3" text-anchor="end" fill="#333">0.075</text>
<line x1="479.2" y1="60.55" x2="482.5" y2="60.55" stroke="#BBBBBB" stroke-width="0.8"/>
<text transform="translate(475.8 64.45) scale(1.0 1.18)" font-size="9.3" text-anchor="end" fill="#333">0.050</text>
<line x1="479.2" y1="70.5" x2="482.5" y2="70.5" stroke="#BBBBBB" stroke-width="0.8"/>
<text transform="translate(475.8 74.4) scale(1.0 1.18)" font-size="9.3" text-anchor="end" fill="#333">0.025</text>
<line x1="479.2" y1="80.45" x2="482.5" y2="80.45" stroke="#BBBBBB" stroke-width="0.8"/>
<text transform="translate(475.8 84.35) scale(1.0 1.18)" font-size="9.3" text-anchor="end" fill="#333">0.000</text>
<line x1="485.4" y1="83" x2="485.4" y2="86.4" stroke="#999" stroke-width="0.8"/>
<text transform="translate(484.8 97.6) scale(1.0 1.2)" font-size="10" text-anchor="middle" fill="#333">0</text>
<line x1="509.1" y1="83" x2="509.1" y2="86.4" stroke="#999" stroke-width="0.8"/>
<text transform="translate(508.5 97.6) scale(1.0 1.2)" font-size="10" text-anchor="middle" fill="#333">200</text>
<line x1="532.9" y1="83" x2="532.9" y2="86.4" stroke="#999" stroke-width="0.8"/>
<text transform="translate(532.3 97.6) scale(1.0 1.2)" font-size="10" text-anchor="middle" fill="#333">400</text>
<line x1="556.6" y1="83" x2="556.6" y2="86.4" stroke="#999" stroke-width="0.8"/>
<text transform="translate(556 97.6) scale(1.0 1.2)" font-size="10" text-anchor="middle" fill="#333">600</text>
<line x1="486" y1="80.6" x2="560" y2="80.6" stroke="#EDEAD0" stroke-width="0.9"/>
<defs><linearGradient id="go" x1="0" y1="0" x2="0" y2="1"><stop offset="0" stop-color="#E2DCAE"/><stop offset="0.25" stop-color="#BDB155"/><stop offset="1" stop-color="#A89A2C"/></linearGradient></defs>
<path d="M485.6 80.8L486.5 50.2L487.1 50.2L489.4 80.8Z" fill="url(#go)"/>
<defs><linearGradient id="gg" x1="0" y1="0" x2="0" y2="1"><stop offset="0" stop-color="#E4E5E7"/><stop offset="1" stop-color="#C9CBCD"/></linearGradient><linearGradient id="gg2" x1="0" y1="0" x2="0" y2="1"><stop offset="0" stop-color="#EEEFF1"/><stop offset="0.6" stop-color="#DCDEE1"/><stop offset="1" stop-color="#D0D2D5"/></linearGradient></defs>
<path d="M555.6 80.8L558.0 32L558.6 32L560 80.8Z" fill="url(#gg)"/>
<line x1="534.4" y1="34" x2="534.4" y2="82.3" stroke="#EE4A55" stroke-width="1.15" stroke-dasharray="3 3" stroke-dashoffset="1.2"/>
<rect x="482.5" y="104.2" width="80.7" height="22.2" fill="#FFFFFF" stroke="#CFCFCF" stroke-width="1"/>
<text x="523.15" y="119.4" font-size="11.4" text-anchor="middle" fill="#222">Chr.19</text>
<rect x="482.5" y="126.4" width="80.7" height="52.8" fill="none" stroke="#CFCFCF" stroke-width="1"/>
<line x1="482.5" y1="126.4" x2="563.2" y2="126.4" stroke="#8C8C8C" stroke-width="1.1"/>
<line x1="479.2" y1="133.4" x2="482.5" y2="133.4" stroke="#BBBBBB" stroke-width="0.8"/>
<text transform="translate(475.8 137.3) scale(1.0 1.18)" font-size="9.3" text-anchor="end" fill="#333">0.20</text>
<line x1="479.2" y1="144.4" x2="482.5" y2="144.4" stroke="#BBBBBB" stroke-width="0.8"/>
<text transform="translate(475.8 148.3) scale(1.0 1.18)" font-size="9.3" text-anchor="end" fill="#333">0.15</text>
<line x1="479.2" y1="155.35" x2="482.5" y2="155.35" stroke="#BBBBBB" stroke-width="0.8"/>
<text transform="translate(475.8 159.25) scale(1.0 1.18)" font-size="9.3" text-anchor="end" fill="#333">0.10</text>
<line x1="479.2" y1="166.3" x2="482.5" y2="166.3" stroke="#BBBBBB" stroke-width="0.8"/>
<text transform="translate(475.8 170.2) scale(1.0 1.18)" font-size="9.3" text-anchor="end" fill="#333">0.05</text>
<line x1="479.2" y1="177.3" x2="482.5" y2="177.3" stroke="#BBBBBB" stroke-width="0.8"/>
<text transform="translate(475.8 181.2) scale(1.0 1.18)" font-size="9.3" text-anchor="end" fill="#333">0.00</text>
<line x1="485.4" y1="179.2" x2="485.4" y2="182.6" stroke="#999" stroke-width="0.8"/>
<text transform="translate(484.8 193.8) scale(1.0 1.2)" font-size="10" text-anchor="middle" fill="#333">0</text>
<line x1="503.3" y1="179.2" x2="503.3" y2="182.6" stroke="#999" stroke-width="0.8"/>
<text transform="translate(502.7 193.8) scale(1.0 1.2)" font-size="10" text-anchor="middle" fill="#333">20</text>
<line x1="521.3" y1="179.2" x2="521.3" y2="182.6" stroke="#999" stroke-width="0.8"/>
<text transform="translate(520.7 193.8) scale(1.0 1.2)" font-size="10" text-anchor="middle" fill="#333">40</text>
<line x1="539.2" y1="179.2" x2="539.2" y2="182.6" stroke="#999" stroke-width="0.8"/>
<text transform="translate(538.6 193.8) scale(1.0 1.2)" font-size="10" text-anchor="middle" fill="#333">60</text>
<line x1="557.1" y1="179.2" x2="557.1" y2="182.6" stroke="#999" stroke-width="0.8"/>
<text transform="translate(556.5 193.8) scale(1.0 1.2)" font-size="10" text-anchor="middle" fill="#333">80</text>
<line x1="486" y1="176.8" x2="560" y2="176.8" stroke="#EDEAD0" stroke-width="0.9"/>
<path d="M486.2 176.8L486.3 174C487.5 172.3 489 171.9 490.5 172C493 172.4 495 174.4 497 175.6C499 176.4 501 176.6 503 176.8Z" fill="#A99B2B"/>
<path d="M548 176.8C550.5 172 552 165 553 158C554.2 148 555.8 135 556.6 128.6L557.2 128.6C557.8 136 558.3 146 558.8 155C559.2 165 559.5 172 559.6 176.8Z" fill="url(#gg2)"/>
<path d="M544 176.8C548 176 551 173 553 169C555 165.5 556 164 557.3 164C558.6 164 559.2 164.8 559.5 165.3L559.5 176.8Z" fill="#B6AF85"/>
<line x1="530.5" y1="128.7" x2="530.5" y2="177.3" stroke="#EE4A55" stroke-width="1.15" stroke-dasharray="3 3.05" stroke-dashoffset="1.1"/>
<text x="442.1" y="99" font-size="10.2" text-anchor="middle" fill="#222" transform="rotate(-90 442.1 99)">Density</text>
<text x="521.5" y="217.1" font-size="10" text-anchor="middle" fill="#222">Gene count</text>
<text x="581" y="55.6" font-size="11" fill="#222">Gene CNV event</text>
<rect x="581" y="63" width="11" height="10.7" fill="#A99B2B"/>
<rect x="581" y="74.7" width="11" height="10.8" fill="#BDBFC1"/>
<text x="596.3" y="70.8" font-size="10.8" fill="#222">deletion</text>
<text x="596.3" y="81.6" font-size="10.8" fill="#222">present</text>
<rect x="62.1" y="298.1" width="251" height="129.6" fill="#E7E8EA"/>
<rect x="63.05" y="298.1" width="10.1" height="129.6" fill="#BDBEC0"/>
<rect x="75" y="298.1" width="10.1" height="129.6" fill="#BDBEC0"/>
<rect x="86.95" y="298.1" width="10.1" height="129.6" fill="#BDBEC0"/>
<rect x="98.9" y="298.1" width="10.1" height="0.39" fill="#6F4F6C"/>
<rect x="98.9" y="298.49" width="10.1" height="129.21" fill="#BDBEC0"/>
<rect x="110.85" y="298.1" width="10.1" height="0.78" fill="#6F4F6C"/>
<rect x="110.85" y="298.88" width="10.1" height="128.82" fill="#BDBEC0"/>
<rect x="122.8" y="298.1" width="10.1" height="129.6" fill="#BDBEC0"/>
<rect x="134.75" y="298.1" width="10.1" height="129.6" fill="#BDBEC0"/>
<rect x="146.7" y="298.1" width="10.1" height="129.6" fill="#BDBEC0"/>
<rect x="158.65" y="298.1" width="10.1" height="129.6" fill="#BDBEC0"/>
<rect x="170.6" y="298.1" width="10.1" height="129.6" fill="#BDBEC0"/>
<rect x="182.55" y="298.1" width="10.1" height="129.6" fill="#BDBEC0"/>
<rect x="194.5" y="298.1" width="10.1" height="0.52" fill="#6F4F6C"/>
<rect x="194.5" y="298.62" width="10.1" height="129.08" fill="#BDBEC0"/>
<rect x="206.45" y="298.1" width="10.1" height="0.26" fill="#6F4F6C"/>
<rect x="206.45" y="298.36" width="10.1" height="129.34" fill="#BDBEC0"/>
<rect x="218.4" y="298.1" width="10.1" height="0.39" fill="#6F4F6C"/>
<rect x="218.4" y="298.49" width="10.1" height="3.24" fill="#E9A71E"/>
<rect x="218.4" y="301.73" width="10.1" height="21.12" fill="#8E9A3B"/>
<rect x="218.4" y="322.85" width="10.1" height="104.85" fill="#BDBEC0"/>
<rect x="230.35" y="298.1" width="10.1" height="0.52" fill="#6F4F6C"/>
<rect x="230.35" y="298.62" width="10.1" height="19.18" fill="#8E9A3B"/>
<rect x="230.35" y="317.8" width="10.1" height="109.9" fill="#BDBEC0"/>
<rect x="242.3" y="298.1" width="10.1" height="6.22" fill="#8E9A3B"/>
<rect x="242.3" y="304.32" width="10.1" height="123.38" fill="#BDBEC0"/>
<rect x="254.25" y="298.1" width="10.1" height="0.52" fill="#6F4F6C"/>
<rect x="254.25" y="298.62" width="10.1" height="0.78" fill="#E9A71E"/>
<rect x="254.25" y="299.4" width="10.1" height="16.33" fill="#8E9A3B"/>
<rect x="254.25" y="315.73" width="10.1" height="111.97" fill="#BDBEC0"/>
<rect x="266.2" y="298.1" width="10.1" height="0.78" fill="#6F4F6C"/>
<rect x="266.2" y="298.88" width="10.1" height="13.61" fill="#E9A71E"/>
<rect x="266.2" y="312.49" width="10.1" height="73.87" fill="#8E9A3B"/>
<rect x="266.2" y="386.36" width="10.1" height="41.34" fill="#BDBEC0"/>
<rect x="278.15" y="298.1" width="10.1" height="0.52" fill="#6F4F6C"/>
<rect x="278.15" y="298.62" width="10.1" height="0.52" fill="#E9A71E"/>
<rect x="278.15" y="299.14" width="10.1" height="14.26" fill="#8E9A3B"/>
<rect x="278.15" y="313.39" width="10.1" height="114.31" fill="#BDBEC0"/>
<rect x="290.1" y="298.1" width="10.1" height="0.39" fill="#E9A71E"/>
<rect x="290.1" y="298.49" width="10.1" height="12.96" fill="#8E9A3B"/>
<rect x="290.1" y="311.45" width="10.1" height="116.25" fill="#BDBEC0"/>
<rect x="302.05" y="298.1" width="10.1" height="0.52" fill="#E9A71E"/>
<rect x="302.05" y="298.62" width="10.1" height="34.47" fill="#8E9A3B"/>
<rect x="302.05" y="333.09" width="10.1" height="94.61" fill="#BDBEC0"/>
<line x1="60.7" y1="291.2" x2="60.7" y2="434.8" stroke="#111" stroke-width="1.3"/>
<line x1="60.1" y1="434.1" x2="315.5" y2="434.1" stroke="#111" stroke-width="1.3"/>
<line x1="57" y1="298.1" x2="60.7" y2="298.1" stroke="#111" stroke-width="1.1"/>
<text transform="translate(53.9 301.2) scale(1.0 1.17)" font-size="9.8" text-anchor="end" fill="#333">1.00</text>
<line x1="57" y1="330.5" x2="60.7" y2="330.5" stroke="#111" stroke-width="1.1"/>
<text transform="translate(53.9 333.6) scale(1.0 1.17)" font-size="9.8" text-anchor="end" fill="#333">0.75</text>
<line x1="57" y1="362.9" x2="60.7" y2="362.9" stroke="#111" stroke-width="1.1"/>
<text transform="translate(53.9 366) scale(1.0 1.17)" font-size="9.8" text-anchor="end" fill="#333">0.50</text>
<line x1="57" y1="395.3" x2="60.7" y2="395.3" stroke="#111" stroke-width="1.1"/>
<text transform="translate(53.9 398.4) scale(1.0 1.17)" font-size="9.8" text-anchor="end" fill="#333">0.25</text>
<line x1="57" y1="427.7" x2="60.7" y2="427.7" stroke="#111" stroke-width="1.1"/>
<text transform="translate(53.9 430.8) scale(1.0 1.17)" font-size="9.8" text-anchor="end" fill="#333">0.00</text>
<line x1="68.1" y1="434.1" x2="68.1" y2="437" stroke="#111" stroke-width="1.0"/>
<text transform="translate(68.1 445.6) scale(1.0 1.22)" font-size="9.3" text-anchor="middle" fill="#333">1</text>
<line x1="80.05" y1="434.1" x2="80.05" y2="437" stroke="#111" stroke-width="1.0"/>
<text transform="translate(80.05 445.6) scale(1.0 1.22)" font-size="9.3" text-anchor="middle" fill="#333">2</text>
<line x1="92" y1="434.1" x2="92" y2="437" stroke="#111" stroke-width="1.0"/>
<text transform="translate(92 445.6) scale(1.0 1.22)" font-size="9.3" text-anchor="middle" fill="#333">3</text>
<line x1="103.95" y1="434.1" x2="103.95" y2="437" stroke="#111" stroke-width="1.0"/>
<text transform="translate(103.95 445.6) scale(1.0 1.22)" font-size="9.3" text-anchor="middle" fill="#333">4</text>
<line x1="115.9" y1="434.1" x2="115.9" y2="437" stroke="#111" stroke-width="1.0"/>
<text transform="translate(115.9 445.6) scale(1.0 1.22)" font-size="9.3" text-anchor="middle" fill="#333">5</text>
<line x1="127.85" y1="434.1" x2="127.85" y2="437" stroke="#111" stroke-width="1.0"/>
<text transform="translate(127.85 445.6) scale(1.0 1.22)" font-size="9.3" text-anchor="middle" fill="#333">6</text>
<line x1="139.8" y1="434.1" x2="139.8" y2="437" stroke="#111" stroke-width="1.0"/>
<text transform="translate(139.8 445.6) scale(1.0 1.22)" font-size="9.3" text-anchor="middle" fill="#333">7</text>
<line x1="151.75" y1="434.1" x2="151.75" y2="437" stroke="#111" stroke-width="1.0"/>
<text transform="translate(151.75 445.6) scale(1.0 1.22)" font-size="9.3" text-anchor="middle" fill="#333">8</text>
<line x1="163.7" y1="434.1" x2="163.7" y2="437" stroke="#111" stroke-width="1.0"/>
<text transform="translate(163.7 445.6) scale(1.0 1.22)" font-size="9.3" text-anchor="middle" fill="#333">9</text>
<line x1="175.65" y1="434.1" x2="175.65" y2="437" stroke="#111" stroke-width="1.0"/>
<text transform="translate(175.65 445.6) scale(1.0 1.22)" font-size="9.3" text-anchor="middle" fill="#333">10</text>
<line x1="187.6" y1="434.1" x2="187.6" y2="437" stroke="#111" stroke-width="1.0"/>
<text transform="translate(187.6 445.6) scale(1.0 1.22)" font-size="9.3" text-anchor="middle" fill="#333">11</text>
<line x1="199.55" y1="434.1" x2="199.55" y2="437" stroke="#111" stroke-width="1.0"/>
<text transform="translate(199.55 445.6) scale(1.0 1.22)" font-size="9.3" text-anchor="middle" fill="#333">12</text>
<line x1="211.5" y1="434.1" x2="211.5" y2="437" stroke="#111" stroke-width="1.0"/>
<text transform="translate(211.5 445.6) scale(1.0 1.22)" font-size="9.3" text-anchor="middle" fill="#333">13</text>
<line x1="223.45" y1="434.1" x2="223.45" y2="437" stroke="#111" stroke-width="1.0"/>
<text transform="translate(223.45 445.6) scale(1.0 1.22)" font-size="9.3" text-anchor="middle" fill="#333">14</text>
<line x1="235.4" y1="434.1" x2="235.4" y2="437" stroke="#111" stroke-width="1.0"/>
<text transform="translate(235.4 445.6) scale(1.0 1.22)" font-size="9.3" text-anchor="middle" fill="#333">15</text>
<line x1="247.35" y1="434.1" x2="247.35" y2="437" stroke="#111" stroke-width="1.0"/>
<text transform="translate(247.35 445.6) scale(1.0 1.22)" font-size="9.3" text-anchor="middle" fill="#333">16</text>
<line x1="259.3" y1="434.1" x2="259.3" y2="437" stroke="#111" stroke-width="1.0"/>
<text transform="translate(259.3 445.6) scale(1.0 1.22)" font-size="9.3" text-anchor="middle" fill="#333">17</text>
<line x1="271.25" y1="434.1" x2="271.25" y2="437" stroke="#111" stroke-width="1.0"/>
<text transform="translate(271.25 445.6) scale(1.0 1.22)" font-size="9.3" text-anchor="middle" fill="#333">18</text>
<line x1="283.2" y1="434.1" x2="283.2" y2="437" stroke="#111" stroke-width="1.0"/>
<text transform="translate(283.2 445.6) scale(1.0 1.22)" font-size="9.3" text-anchor="middle" fill="#333">19</text>
<line x1="295.15" y1="434.1" x2="295.15" y2="437" stroke="#111" stroke-width="1.0"/>
<text transform="translate(295.15 445.6) scale(1.0 1.22)" font-size="9.3" text-anchor="middle" fill="#333">20</text>
<line x1="307.1" y1="434.1" x2="307.1" y2="437" stroke="#111" stroke-width="1.0"/>
<text transform="translate(307.1 445.6) scale(1.0 1.22)" font-size="9.3" text-anchor="middle" fill="#333">21</text>
<line x1="217.1" y1="430" x2="217.1" y2="449" stroke="#999" stroke-width="0.9"/>
<text x="133.8" y="460.2" font-size="9.9" text-anchor="middle" fill="#222">core</text>
<text x="133.8" y="471.4" font-size="9.9" text-anchor="middle" fill="#222">chromosomes</text>
<text x="259.8" y="460.2" font-size="9.9" text-anchor="middle" fill="#222">accessory</text>
<text x="259.8" y="471.4" font-size="9.9" text-anchor="middle" fill="#222">chromosomes</text>
<text x="18.8" y="361.7" font-size="10.3" text-anchor="middle" fill="#222" transform="rotate(-90 18.8 361.7)">Frequency</text>
<text x="318.8" y="330.7" font-size="11.1" fill="#222">Chromosome CNV</text>
<rect x="318.5" y="339.9" width="11.5" height="13" fill="#6F4F6C"/>
<text x="332.2" y="349.5" font-size="11" fill="#222">duplicated</text>
<rect x="318.5" y="355.75" width="11.5" height="13" fill="#E9A71E"/>
<text x="332.2" y="365.35" font-size="11" fill="#222">complex</text>
<rect x="318.5" y="371.6" width="11.5" height="13" fill="#8E9A3B"/>
<text x="332.2" y="381.2" font-size="11" fill="#222">missing</text>
<rect x="318.5" y="387.45" width="11.5" height="13" fill="#BDBEC0"/>
<text x="332.2" y="397.05" font-size="11" fill="#222">euploid</text>
<rect x="464.75" y="364" width="15.1" height="61.8" fill="#70516B"/>
<rect x="481.6" y="302.2" width="15.1" height="123.6" fill="#70516B"/>
<rect x="498.45" y="405.2" width="15.1" height="20.6" fill="#70516B"/>
<rect x="515.3" y="322.8" width="15.1" height="103" fill="#70516B"/>
<rect x="532.15" y="384.6" width="15.1" height="41.2" fill="#70516B"/>
<rect x="549" y="364" width="15.1" height="61.8" fill="#70516B"/>
<rect x="565.85" y="405.2" width="15.1" height="20.6" fill="#70516B"/>
<rect x="582.7" y="405.2" width="15.1" height="20.6" fill="#70516B"/>
<rect x="599.55" y="322.8" width="15.1" height="103" fill="#70516B"/>
<rect x="616.4" y="302.2" width="15.1" height="123.6" fill="#70516B"/>
<rect x="633.25" y="343.4" width="15.1" height="82.4" fill="#70516B"/>
<rect x="650.1" y="405.2" width="15.1" height="20.6" fill="#70516B"/>
<rect x="666.95" y="405.2" width="15.1" height="20.6" fill="#70516B"/>
<line x1="462.4" y1="295.8" x2="462.4" y2="432.6" stroke="#7C7C7C" stroke-width="1.2"/>
<line x1="461.8" y1="432.1" x2="684" y2="432.1" stroke="#8A8A8A" stroke-width="1.3"/>
<line x1="459" y1="425.8" x2="462.4" y2="425.8" stroke="#555" stroke-width="1.4"/>
<text transform="translate(455.4 428.6) scale(1.0 1.25)" font-size="9.2" text-anchor="end" fill="#333">0</text>
<line x1="459" y1="384.6" x2="462.4" y2="384.6" stroke="#555" stroke-width="1.4"/>
<text transform="translate(455.4 387.4) scale(1.0 1.25)" font-size="9.2" text-anchor="end" fill="#333">2</text>
<line x1="459" y1="343.4" x2="462.4" y2="343.4" stroke="#555" stroke-width="1.4"/>
<text transform="translate(455.4 346.2) scale(1.0 1.25)" font-size="9.2" text-anchor="end" fill="#333">4</text>
<line x1="459" y1="302.2" x2="462.4" y2="302.2" stroke="#555" stroke-width="1.4"/>
<text transform="translate(455.4 305) scale(1.0 1.25)" font-size="9.2" text-anchor="end" fill="#333">6</text>
<line x1="472.3" y1="432.1" x2="472.3" y2="434.6" stroke="#333" stroke-width="1.2"/>
<text transform="translate(473.1 444.7) scale(1.0 1.16)" font-size="9.9" text-anchor="middle" fill="#333">4</text>
<line x1="489.15" y1="432.1" x2="489.15" y2="434.6" stroke="#333" stroke-width="1.2"/>
<text transform="translate(489.95 444.7) scale(1.0 1.16)" font-size="9.9" text-anchor="middle" fill="#333">5</text>
<line x1="506" y1="432.1" x2="506" y2="434.6" stroke="#333" stroke-width="1.2"/>
<text transform="translate(506.8 444.7) scale(1.0 1.16)" font-size="9.9" text-anchor="middle" fill="#333">6</text>
<line x1="522.85" y1="432.1" x2="522.85" y2="434.6" stroke="#333" stroke-width="1.2"/>
<text transform="translate(523.65 444.7) scale(1.0 1.16)" font-size="9.9" text-anchor="middle" fill="#333">12</text>
<line x1="539.7" y1="432.1" x2="539.7" y2="434.6" stroke="#333" stroke-width="1.2"/>
<text transform="translate(540.5 444.7) scale(1.0 1.16)" font-size="9.9" text-anchor="middle" fill="#333">13</text>
<line x1="556.55" y1="432.1" x2="556.55" y2="434.6" stroke="#333" stroke-width="1.2"/>
<text transform="translate(557.35 444.7) scale(1.0 1.16)" font-size="9.9" text-anchor="middle" fill="#333">14</text>
<line x1="573.4" y1="432.1" x2="573.4" y2="434.6" stroke="#333" stroke-width="1.2"/>
<text transform="translate(574.2 444.7) scale(1.0 1.16)" font-size="9.9" text-anchor="middle" fill="#333">15</text>
<line x1="590.25" y1="432.1" x2="590.25" y2="434.6" stroke="#333" stroke-width="1.2"/>
<text transform="translate(591.05 444.7) scale(1.0 1.16)" font-size="9.9" text-anchor="middle" fill="#333">16</text>
<line x1="607.1" y1="432.1" x2="607.1" y2="434.6" stroke="#333" stroke-width="1.2"/>
<text transform="translate(607.9 444.7) scale(1.0 1.16)" font-size="9.9" text-anchor="middle" fill="#333">17</text>
<line x1="623.95" y1="432.1" x2="623.95" y2="434.6" stroke="#333" stroke-width="1.2"/>
<text transform="translate(624.75 444.7) scale(1.0 1.16)" font-size="9.9" text-anchor="middle" fill="#333">18</text>
<line x1="640.8" y1="432.1" x2="640.8" y2="434.6" stroke="#333" stroke-width="1.2"/>
<text transform="translate(641.6 444.7) scale(1.0 1.16)" font-size="9.9" text-anchor="middle" fill="#333">19</text>
<line x1="657.65" y1="432.1" x2="657.65" y2="434.6" stroke="#333" stroke-width="1.2"/>
<text transform="translate(658.45 444.7) scale(1.0 1.16)" font-size="9.9" text-anchor="middle" fill="#333">20</text>
<line x1="674.5" y1="432.1" x2="674.5" y2="434.6" stroke="#333" stroke-width="1.2"/>
<text transform="translate(675.3 444.7) scale(1.0 1.16)" font-size="9.9" text-anchor="middle" fill="#333">21</text>
<line x1="548.5" y1="432.1" x2="548.5" y2="446.6" stroke="#666" stroke-width="0.9"/>
<text x="515.3" y="460.1" font-size="9.9" text-anchor="middle" fill="#222">core</text>
<text x="515.3" y="471.4" font-size="9.9" text-anchor="middle" fill="#222">chromosomes</text>
<text x="620.6" y="460.1" font-size="9.9" text-anchor="middle" fill="#222">accessory</text>
<text x="620.6" y="471.4" font-size="9.9" text-anchor="middle" fill="#222">chromosomes</text>
<text x="441.2" y="361.9" font-size="9.8" text-anchor="middle" fill="#222" transform="rotate(-90 441.2 361.9)">Chromosomal duplications</text>
<rect x="53.05" y="701.9" width="16.4" height="0.9" fill="#DCDEDF"/>
<rect x="71.53" y="701.09" width="16.4" height="1.71" fill="#BDBEC0"/>
<rect x="90.01" y="699.72" width="16.4" height="3.08" fill="#BDBEC0"/>
<rect x="108.49" y="694.93" width="16.4" height="7.87" fill="#BDBEC0"/>
<rect x="126.97" y="687.75" width="16.4" height="15.05" fill="#BDBEC0"/>
<rect x="145.45" y="655.6" width="16.4" height="47.2" fill="#BDBEC0"/>
<rect x="163.93" y="596.78" width="16.4" height="106.02" fill="#BDBEC0"/>
<rect x="182.41" y="569.42" width="16.4" height="133.38" fill="#BDBEC0"/>
<rect x="200.89" y="644.66" width="16.4" height="58.14" fill="#BDBEC0"/>
<rect x="219.37" y="698.7" width="16.4" height="4.1" fill="#BDBEC0"/>
<rect x="237.85" y="701.9" width="16.4" height="0.9" fill="#DCDEDF"/>
<line x1="50.1" y1="562.8" x2="50.1" y2="710" stroke="#9A9A9A" stroke-width="1.4"/>
<line x1="49.4" y1="709.4" x2="257.4" y2="709.4" stroke="#8A8A8A" stroke-width="1.4"/>
<line x1="48.3" y1="702.8" x2="50.1" y2="702.8" stroke="#888" stroke-width="0.8"/>
<text transform="translate(47.6 706.5) scale(1.0 1.16)" font-size="10.3" text-anchor="end" fill="#333">0</text>
<line x1="48.3" y1="668.6" x2="50.1" y2="668.6" stroke="#888" stroke-width="0.8"/>
<text transform="translate(47.6 672.3) scale(1.0 1.16)" font-size="10.3" text-anchor="end" fill="#333">100</text>
<line x1="48.3" y1="634.4" x2="50.1" y2="634.4" stroke="#888" stroke-width="0.8"/>
<text transform="translate(47.6 638.1) scale(1.0 1.16)" font-size="10.3" text-anchor="end" fill="#333">200</text>
<line x1="48.3" y1="600.2" x2="50.1" y2="600.2" stroke="#888" stroke-width="0.8"/>
<text transform="translate(47.6 603.9) scale(1.0 1.16)" font-size="10.3" text-anchor="end" fill="#333">300</text>
<line x1="48.3" y1="566" x2="50.1" y2="566" stroke="#888" stroke-width="0.8"/>
<text transform="translate(47.6 569.7) scale(1.0 1.16)" font-size="10.3" text-anchor="end" fill="#333">400</text>
<line x1="61.25" y1="709.4" x2="61.25" y2="711.6" stroke="#888" stroke-width="0.8"/>
<text transform="translate(60.75 723.9) scale(1.0 1.2)" font-size="9.8" text-anchor="middle" fill="#333">13</text>
<line x1="79.73" y1="709.4" x2="79.73" y2="711.6" stroke="#888" stroke-width="0.8"/>
<text transform="translate(79.23 723.9) scale(1.0 1.2)" font-size="9.8" text-anchor="middle" fill="#333">14</text>
<line x1="98.21" y1="709.4" x2="98.21" y2="711.6" stroke="#888" stroke-width="0.8"/>
<text transform="translate(97.71 723.9) scale(1.0 1.2)" font-size="9.8" text-anchor="middle" fill="#333">15</text>
<line x1="116.69" y1="709.4" x2="116.69" y2="711.6" stroke="#888" stroke-width="0.8"/>
<text transform="translate(116.19 723.9) scale(1.0 1.2)" font-size="9.8" text-anchor="middle" fill="#333">16</text>
<line x1="135.17" y1="709.4" x2="135.17" y2="711.6" stroke="#888" stroke-width="0.8"/>
<text transform="translate(134.67 723.9) scale(1.0 1.2)" font-size="9.8" text-anchor="middle" fill="#333">17</text>
<line x1="153.65" y1="709.4" x2="153.65" y2="711.6" stroke="#888" stroke-width="0.8"/>
<text transform="translate(153.15 723.9) scale(1.0 1.2)" font-size="9.8" text-anchor="middle" fill="#333">18</text>
<line x1="172.13" y1="709.4" x2="172.13" y2="711.6" stroke="#888" stroke-width="0.8"/>
<text transform="translate(171.63 723.9) scale(1.0 1.2)" font-size="9.8" text-anchor="middle" fill="#333">19</text>
<line x1="190.61" y1="709.4" x2="190.61" y2="711.6" stroke="#888" stroke-width="0.8"/>
<text transform="translate(190.11 723.9) scale(1.0 1.2)" font-size="9.8" text-anchor="middle" fill="#333">20</text>
<line x1="209.09" y1="709.4" x2="209.09" y2="711.6" stroke="#888" stroke-width="0.8"/>
<text transform="translate(208.59 723.9) scale(1.0 1.2)" font-size="9.8" text-anchor="middle" fill="#333">21</text>
<line x1="227.57" y1="709.4" x2="227.57" y2="711.6" stroke="#888" stroke-width="0.8"/>
<text transform="translate(227.07 723.9) scale(1.0 1.2)" font-size="9.8" text-anchor="middle" fill="#333">22</text>
<line x1="246.05" y1="709.4" x2="246.05" y2="711.6" stroke="#888" stroke-width="0.8"/>
<text transform="translate(245.55 723.9) scale(1.0 1.2)" font-size="9.8" text-anchor="middle" fill="#333">23</text>
<text x="155.9" y="741" font-size="11.3" text-anchor="middle" fill="#222">Total chromosome count</text>
<text x="19.5" y="622.4" font-size="11.2" text-anchor="middle" fill="#222" transform="rotate(-90 19.5 622.4)">Number of strains</text></svg></body></html>
